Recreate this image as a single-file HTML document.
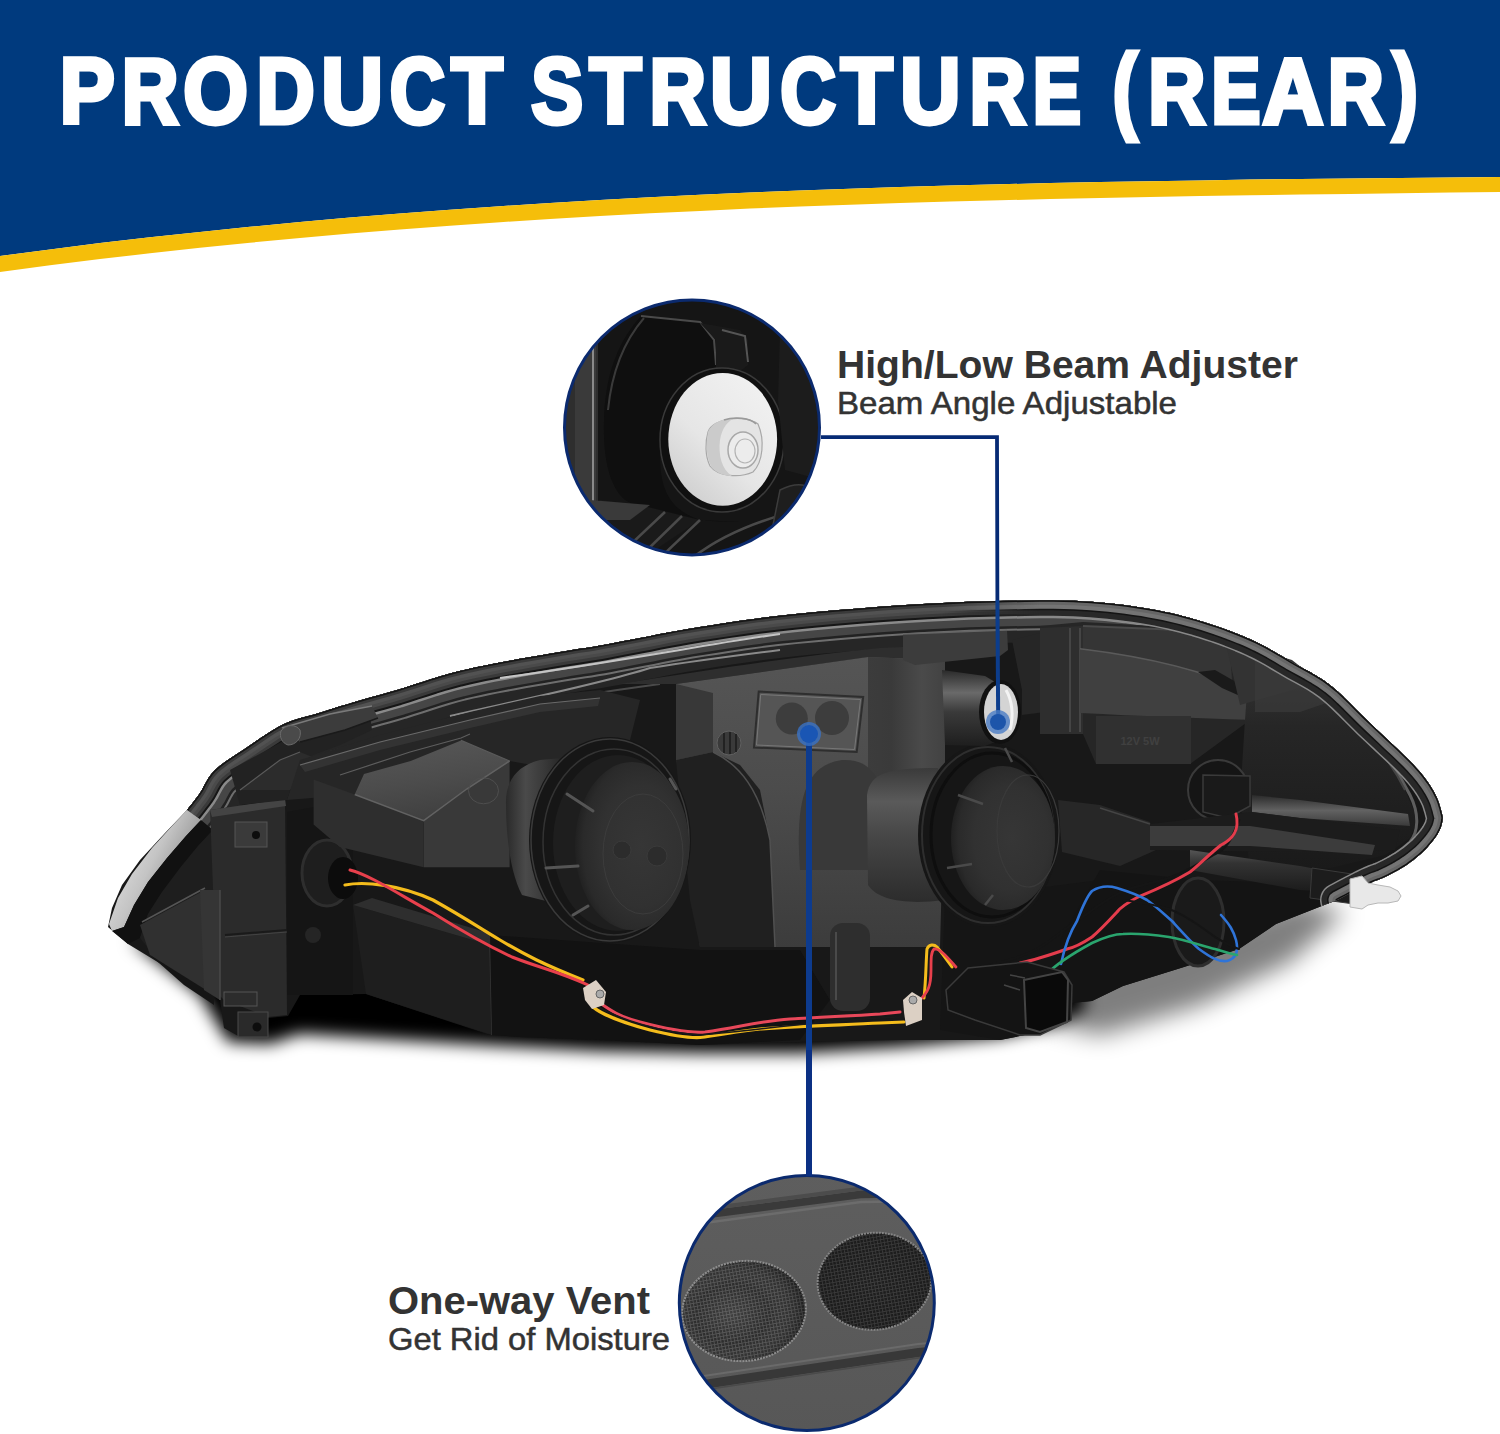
<!DOCTYPE html>
<html><head><meta charset="utf-8">
<style>
html,body{margin:0;padding:0;background:#fff;}
body{width:1500px;height:1434px;overflow:hidden;position:relative;font-family:"Liberation Sans",sans-serif;}
svg{position:absolute;left:0;top:0;}
</style></head><body>
<svg width="1500" height="1434" viewBox="0 0 1500 1434">
<polygon points="0,0 1500,0 1500,177.0 1450,177.4 1400,177.9 1350,178.4 1300,179.0 1250,179.6 1200,180.4 1150,181.2 1100,182.1 1050,183.1 1000,184.3 950,185.6 900,187.1 850,188.7 800,190.6 750,192.6 700,194.8 650,197.3 600,200.0 550,203.0 500,206.2 450,209.7 400,213.5 350,217.6 300,222.0 250,226.8 200,231.9 150,237.3 100,243.1 50,249.4 0,256.0" fill="#003a7e"/>
<polygon points="0,256.0 50,249.4 100,243.1 150,237.3 200,231.9 250,226.8 300,222.0 350,217.6 400,213.5 450,209.7 500,206.2 550,203.0 600,200.0 650,197.3 700,194.8 750,192.6 800,190.6 850,188.7 900,187.1 950,185.6 1000,184.3 1050,183.1 1100,182.1 1150,181.2 1200,180.4 1250,179.6 1300,179.0 1350,178.4 1400,177.9 1450,177.4 1500,177.0 1500,192.0 1450,192.6 1400,193.2 1350,193.9 1300,194.6 1250,195.3 1200,196.1 1150,197.0 1100,198.0 1050,199.1 1000,200.3 950,201.6 900,203.1 850,204.8 800,206.6 750,208.6 700,210.9 650,213.3 600,216.0 550,219.0 500,222.2 450,225.7 400,229.5 350,233.6 300,238.0 250,242.7 200,247.8 150,253.3 100,259.1 50,265.3 0,272.0" fill="#f5be0a"/>
<g font-family="Liberation Sans" font-weight="bold" font-size="91.86" fill="#fff" stroke="#fff" stroke-width="4.8" stroke-linejoin="miter">
<text transform="translate(63.0 123.10) scale(0.898 1)" x="-3.74" y="0">P</text>
<text transform="translate(125.0 123.10) scale(0.856 1)" x="-3.74" y="0">R</text>
<text transform="translate(184.6 123.10) scale(0.905 1)" x="-1.37" y="0">O</text>
<text transform="translate(259.7 123.10) scale(0.878 1)" x="-3.74" y="0">D</text>
<text transform="translate(324.1 123.10) scale(0.931 1)" x="-3.12" y="0">U</text>
<text transform="translate(391.0 123.10) scale(0.833 1)" x="-1.37" y="0">C</text>
<text transform="translate(450.0 123.10) scale(0.917 1)" x="1.37" y="0">T</text>
<text transform="translate(531.5 123.10) scale(0.846 1)" x="-0.25" y="0">S</text>
<text transform="translate(588.2 123.10) scale(0.925 1)" x="1.37" y="0">T</text>
<text transform="translate(652.6 123.10) scale(0.851 1)" x="-3.74" y="0">R</text>
<text transform="translate(713.0 123.10) scale(0.933 1)" x="-3.12" y="0">U</text>
<text transform="translate(781.3 123.10) scale(0.839 1)" x="-1.37" y="0">C</text>
<text transform="translate(839.5 123.10) scale(0.925 1)" x="1.37" y="0">T</text>
<text transform="translate(903.0 123.10) scale(0.908 1)" x="-3.12" y="0">U</text>
<text transform="translate(972.8 123.10) scale(0.851 1)" x="-3.74" y="0">R</text>
<text transform="translate(1035.7 123.10) scale(0.788 1)" x="-3.74" y="0">E</text>
<text transform="translate(1114.6 120.91) scale(0.797 1.034)" x="-2.18" y="0">(</text>
<text transform="translate(1151.4 123.10) scale(0.862 1)" x="-3.74" y="0">R</text>
<text transform="translate(1214.2 123.10) scale(0.804 1)" x="-3.74" y="0">E</text>
<text transform="translate(1262.5 123.10) scale(0.917 1)" x="0.11" y="0">A</text>
<text transform="translate(1331.0 123.10) scale(0.845 1)" x="-3.74" y="0">R</text>
<text transform="translate(1391.2 120.91) scale(0.807 1.034)" x="2.31" y="0">)</text>
</g>
<defs>
<filter id="blur12" x="-20%" y="-50%" width="140%" height="200%"><feGaussianBlur stdDeviation="12"/></filter>
<filter id="blur8" x="-20%" y="-50%" width="140%" height="200%"><feGaussianBlur stdDeviation="8"/></filter>
<filter id="blur4" x="-20%" y="-50%" width="140%" height="200%"><feGaussianBlur stdDeviation="4"/></filter>
<filter id="blur2" x="-20%" y="-20%" width="140%" height="140%"><feGaussianBlur stdDeviation="2"/></filter>
<filter id="blur1"><feGaussianBlur stdDeviation="1"/></filter>
<linearGradient id="lensL" x1="0.1" y1="0.2" x2="0.9" y2="0.75">
<stop offset="0" stop-color="#e4e4e4"/><stop offset="0.45" stop-color="#c4c4c4"/><stop offset="1" stop-color="#7a7a7a"/></linearGradient>
<linearGradient id="plateG" x1="0" y1="0" x2="0" y2="1">
<stop offset="0" stop-color="#555"/><stop offset="0.45" stop-color="#4c4c4c"/><stop offset="1" stop-color="#3c3c3c"/></linearGradient>
<linearGradient id="plateR" x1="0" y1="0" x2="1" y2="0">
<stop offset="0" stop-color="#3c3c3c"/><stop offset="0.3" stop-color="#3a3a3a"/><stop offset="0.7" stop-color="#4a4a4a"/><stop offset="1" stop-color="#424242"/></linearGradient>
<radialGradient id="bulbG" cx="0.58" cy="0.5" r="0.6">
<stop offset="0" stop-color="#363636"/><stop offset="0.6" stop-color="#313131"/><stop offset="0.85" stop-color="#2a2a2a"/><stop offset="1" stop-color="#1e1e1e"/></radialGradient>
<linearGradient id="cylG" x1="0" y1="0" x2="0" y2="1">
<stop offset="0" stop-color="#3a3a3a"/><stop offset="0.25" stop-color="#5a5a5a"/><stop offset="0.5" stop-color="#474747"/><stop offset="1" stop-color="#2c2c2c"/></linearGradient>
<linearGradient id="adjCyl" x1="0" y1="0" x2="0" y2="1">
<stop offset="0" stop-color="#2a2a2a"/><stop offset="0.3" stop-color="#6a6a6a"/><stop offset="0.55" stop-color="#3a3a3a"/><stop offset="1" stop-color="#1e1e1e"/></linearGradient>
<linearGradient id="shelfG" x1="0" y1="0" x2="0" y2="1">
<stop offset="0" stop-color="#222"/><stop offset="0.5" stop-color="#4a4a4a"/><stop offset="1" stop-color="#262626"/></linearGradient>
<linearGradient id="bowlG" x1="0" y1="0" x2="0.3" y2="1">
<stop offset="0" stop-color="#3a3a3a"/><stop offset="0.4" stop-color="#262626"/><stop offset="1" stop-color="#1a1a1a"/></linearGradient>
<linearGradient id="blockTop" x1="0.3" y1="0" x2="0.6" y2="1">
<stop offset="0" stop-color="#575757"/><stop offset="0.5" stop-color="#4c4c4c"/><stop offset="1" stop-color="#3e3e3e"/></linearGradient>
<linearGradient id="rimG" x1="0" y1="0" x2="0" y2="1">
<stop offset="0" stop-color="#111"/><stop offset="0.4" stop-color="#3a3a3a"/><stop offset="1" stop-color="#141414"/></linearGradient>
</defs>
<!-- floor shadow -->
<path d="M1040,1020 L1100,1035 L1200,1005 L1290,962 L1345,912 L1300,900 L1100,960 Z" fill="#000" opacity="0.5" filter="url(#blur12)"/>
<path d="M130,940 L200,995 L228,1042 L270,1044 L300,1034 L400,1040 L500,1046 L600,1051 L700,1053 L800,1053 L900,1047 L1000,1037 L1050,1026 L1085,1010 L1085,960 L300,960 Z" fill="#000" filter="url(#blur8)"/>
<!-- body silhouette -->
<path d="M108,927 L112,908 122,885 140,860 165,833 187.0,810.0 188.4,808.2 190.3,805.8 192.6,802.9 195.0,799.7 197.6,796.4 200.0,793.0 202.2,789.5 204.1,785.8 206.2,781.9 208.5,778.0 211.4,774.0 215.0,770.0 219.6,766.0 224.9,762.0 230.8,757.9 236.9,753.9 243.1,749.9 249.0,746.0 254.8,742.1 260.6,738.1 266.4,734.2 272.3,730.4 278.2,727.0 284.0,724.0 289.8,721.5 295.7,719.5 301.6,717.8 307.4,716.2 313.2,714.7 319.0,713.0 324.6,711.2 330.0,709.5 335.4,707.8 341.0,706.1 346.8,704.4 353.0,702.5 359.7,700.6 366.6,698.6 373.8,696.6 381.3,694.5 389.0,692.3 397.0,690.0 405.3,687.4 414.1,684.6 423.1,681.7 432.2,678.7 441.2,676.0 450.0,673.5 458.4,671.3 466.5,669.4 474.6,667.6 482.7,665.9 491.1,664.2 500.0,662.5 509.7,660.7 520.0,658.8 530.6,657.0 541.1,655.2 551.0,653.5 560.0,652.0 567.8,650.7 574.8,649.6 581.2,648.6 587.4,647.7 593.6,646.7 600.0,645.6 606.4,644.4 612.6,643.3 618.8,642.1 625.2,640.8 632.2,639.5 640.0,638.0 648.5,636.4 657.3,634.6 666.7,632.8 676.8,630.9 687.9,629.0 700.0,627.0 713.1,625.0 727.0,622.8 741.9,620.6 757.7,618.4 774.7,616.3 793.0,614.3 813.2,612.3 835.4,610.3 858.8,608.4 882.4,606.6 905.4,605.0 927.0,603.7 947.7,602.7 968.2,601.8 988.1,601.2 1007.0,600.8 1024.5,600.5 1040.0,600.3 1053.2,600.3 1064.3,600.5 1073.9,600.8 1082.7,601.2 1091.2,601.8 1100.0,602.5 1109.0,603.3 1117.8,604.3 1126.2,605.3 1134.4,606.5 1142.4,607.7 1150.0,609.0 1157.2,610.3 1164.1,611.7 1170.6,613.1 1177.0,614.6 1183.4,616.2 1190.0,618.0 1196.8,619.9 1203.6,622.0 1210.5,624.2 1217.3,626.4 1223.8,628.7 1230.0,631.0 1235.8,633.3 1241.4,635.5 1246.8,637.8 1251.9,640.1 1257.0,642.5 1262.0,645.0 1266.8,647.5 1271.2,649.9 1275.5,652.4 1279.9,655.0 1284.7,657.8 1290.0,661.0 1296.0,664.4 1302.4,667.9 1309.2,671.6 1316.2,675.7 1323.2,680.1 1330.0,685.0 1336.7,690.5 1343.4,696.7 1350.1,703.2 1356.7,709.9 1363.4,716.6 1370.0,723.0 1376.8,729.4 1383.9,736.1 1390.9,742.7 1397.7,749.0 1403.8,754.9 1409.0,760.0 1413.2,764.3 1416.5,767.9 1419.3,771.0 1421.6,773.8 1423.8,776.6 1426.0,779.5 1428.2,782.5 1430.2,785.5 1432.0,788.4 1433.7,791.3 1435.2,794.2 1436.6,797.0 1437.9,799.9 1439.0,803.0 1439.9,806.0 1440.8,808.9 1441.4,811.5 1442.0,813.7 1442.4,815.4 1442.7,816.6 1442.8,817.5 1442.8,818.4 1442.7,819.3 1442.5,820.5 1442.3,821.9 1441.9,823.5 1441.5,825.2 1441.0,826.9 1440.4,828.6 1439.6,830.3 1438.7,832.0 1437.8,833.7 1436.7,835.5 1435.5,837.3 1434.2,839.1 1432.7,841.0 1431.1,843.0 1429.3,845.1 1427.5,847.2 1425.4,849.4 1423.3,851.6 1421.0,853.7 1418.5,855.8 1415.9,858.0 1413.2,860.2 1410.3,862.3 1407.4,864.4 1404.4,866.4 1401.3,868.3 1398.1,870.2 1394.7,872.1 1391.4,873.8 1388.1,875.5 1385.0,877.0 1382.2,878.3 1379.7,879.3 1377.2,880.2 1374.6,881.1 1371.6,882.4 1368.0,884.0 1363.3,886.3 1357.6,889.3 1351.4,892.4 1345.6,895.5 1340.5,898.2 1337.0,900.0 1276,924 1239,949 1184,967 1123,986 1092,1001 1061,1004 1040,1032 1000,1040 900,1040 800,1042 700,1045 600,1040 520,1037 487,1034 366,994 300,995 288,1016 268,1018 268,1037 240,1037 224,1028 220,1000 184,978 156,961 128,944 Z" fill="#181818"/>
<!-- rim (top) -->
<defs><clipPath id="bodyClip"><path d="M108,927 L112,908 122,885 140,860 165,833 187.0,810.0 188.4,808.2 190.3,805.8 192.6,802.9 195.0,799.7 197.6,796.4 200.0,793.0 202.2,789.5 204.1,785.8 206.2,781.9 208.5,778.0 211.4,774.0 215.0,770.0 219.6,766.0 224.9,762.0 230.8,757.9 236.9,753.9 243.1,749.9 249.0,746.0 254.8,742.1 260.6,738.1 266.4,734.2 272.3,730.4 278.2,727.0 284.0,724.0 289.8,721.5 295.7,719.5 301.6,717.8 307.4,716.2 313.2,714.7 319.0,713.0 324.6,711.2 330.0,709.5 335.4,707.8 341.0,706.1 346.8,704.4 353.0,702.5 359.7,700.6 366.6,698.6 373.8,696.6 381.3,694.5 389.0,692.3 397.0,690.0 405.3,687.4 414.1,684.6 423.1,681.7 432.2,678.7 441.2,676.0 450.0,673.5 458.4,671.3 466.5,669.4 474.6,667.6 482.7,665.9 491.1,664.2 500.0,662.5 509.7,660.7 520.0,658.8 530.6,657.0 541.1,655.2 551.0,653.5 560.0,652.0 567.8,650.7 574.8,649.6 581.2,648.6 587.4,647.7 593.6,646.7 600.0,645.6 606.4,644.4 612.6,643.3 618.8,642.1 625.2,640.8 632.2,639.5 640.0,638.0 648.5,636.4 657.3,634.6 666.7,632.8 676.8,630.9 687.9,629.0 700.0,627.0 713.1,625.0 727.0,622.8 741.9,620.6 757.7,618.4 774.7,616.3 793.0,614.3 813.2,612.3 835.4,610.3 858.8,608.4 882.4,606.6 905.4,605.0 927.0,603.7 947.7,602.7 968.2,601.8 988.1,601.2 1007.0,600.8 1024.5,600.5 1040.0,600.3 1053.2,600.3 1064.3,600.5 1073.9,600.8 1082.7,601.2 1091.2,601.8 1100.0,602.5 1109.0,603.3 1117.8,604.3 1126.2,605.3 1134.4,606.5 1142.4,607.7 1150.0,609.0 1157.2,610.3 1164.1,611.7 1170.6,613.1 1177.0,614.6 1183.4,616.2 1190.0,618.0 1196.8,619.9 1203.6,622.0 1210.5,624.2 1217.3,626.4 1223.8,628.7 1230.0,631.0 1235.8,633.3 1241.4,635.5 1246.8,637.8 1251.9,640.1 1257.0,642.5 1262.0,645.0 1266.8,647.5 1271.2,649.9 1275.5,652.4 1279.9,655.0 1284.7,657.8 1290.0,661.0 1296.0,664.4 1302.4,667.9 1309.2,671.6 1316.2,675.7 1323.2,680.1 1330.0,685.0 1336.7,690.5 1343.4,696.7 1350.1,703.2 1356.7,709.9 1363.4,716.6 1370.0,723.0 1376.8,729.4 1383.9,736.1 1390.9,742.7 1397.7,749.0 1403.8,754.9 1409.0,760.0 1413.2,764.3 1416.5,767.9 1419.3,771.0 1421.6,773.8 1423.8,776.6 1426.0,779.5 1428.2,782.5 1430.2,785.5 1432.0,788.4 1433.7,791.3 1435.2,794.2 1436.6,797.0 1437.9,799.9 1439.0,803.0 1439.9,806.0 1440.8,808.9 1441.4,811.5 1442.0,813.7 1442.4,815.4 1442.7,816.6 1442.8,817.5 1442.8,818.4 1442.7,819.3 1442.5,820.5 1442.3,821.9 1441.9,823.5 1441.5,825.2 1441.0,826.9 1440.4,828.6 1439.6,830.3 1438.7,832.0 1437.8,833.7 1436.7,835.5 1435.5,837.3 1434.2,839.1 1432.7,841.0 1431.1,843.0 1429.3,845.1 1427.5,847.2 1425.4,849.4 1423.3,851.6 1421.0,853.7 1418.5,855.8 1415.9,858.0 1413.2,860.2 1410.3,862.3 1407.4,864.4 1404.4,866.4 1401.3,868.3 1398.1,870.2 1394.7,872.1 1391.4,873.8 1388.1,875.5 1385.0,877.0 1382.2,878.3 1379.7,879.3 1377.2,880.2 1374.6,881.1 1371.6,882.4 1368.0,884.0 1363.3,886.3 1357.6,889.3 1351.4,892.4 1345.6,895.5 1340.5,898.2 1337.0,900.0 1276,924 1239,949 1184,967 1123,986 1092,1001 1061,1004 1040,1032 1000,1040 900,1040 800,1042 700,1045 600,1040 520,1037 487,1034 366,994 300,995 288,1016 268,1018 268,1037 240,1037 224,1028 220,1000 184,978 156,961 128,944 Z"/></clipPath></defs>
<g clip-path="url(#bodyClip)" fill="none" stroke-linejoin="round">
<path d="M187.0,810.0 L188.4,808.2 L190.3,805.8 L192.6,802.9 L195.0,799.7 L197.6,796.4 L200.0,793.0 L202.2,789.5 L204.1,785.8 L206.2,781.9 L208.5,778.0 L211.4,774.0 L215.0,770.0 L219.6,766.0 L224.9,762.0 L230.8,757.9 L236.9,753.9 L243.1,749.9 L249.0,746.0 L254.8,742.1 L260.6,738.1 L266.4,734.2 L272.3,730.4 L278.2,727.0 L284.0,724.0 L289.8,721.5 L295.7,719.5 L301.6,717.8 L307.4,716.2 L313.2,714.7 L319.0,713.0 L324.6,711.2 L330.0,709.5 L335.4,707.8 L341.0,706.1 L346.8,704.4 L353.0,702.5 L359.7,700.6 L366.6,698.6 L373.8,696.6 L381.3,694.5 L389.0,692.3 L397.0,690.0 L405.3,687.4 L414.1,684.6 L423.1,681.7 L432.2,678.7 L441.2,676.0 L450.0,673.5 L458.4,671.3 L466.5,669.4 L474.6,667.6 L482.7,665.9 L491.1,664.2 L500.0,662.5 L509.7,660.7 L520.0,658.8 L530.6,657.0 L541.1,655.2 L551.0,653.5 L560.0,652.0 L567.8,650.7 L574.8,649.6 L581.2,648.6 L587.4,647.7 L593.6,646.7 L600.0,645.6 L606.4,644.4 L612.6,643.3 L618.8,642.1 L625.2,640.8 L632.2,639.5 L640.0,638.0 L648.5,636.4 L657.3,634.6 L666.7,632.8 L676.8,630.9 L687.9,629.0 L700.0,627.0 L713.1,625.0 L727.0,622.8 L741.9,620.6 L757.7,618.4 L774.7,616.3 L793.0,614.3 L813.2,612.3 L835.4,610.3 L858.8,608.4 L882.4,606.6 L905.4,605.0 L927.0,603.7 L947.7,602.7 L968.2,601.8 L988.1,601.2 L1007.0,600.8 L1024.5,600.5 L1040.0,600.3 L1053.2,600.3 L1064.3,600.5 L1073.9,600.8 L1082.7,601.2 L1091.2,601.8 L1100.0,602.5 L1109.0,603.3 L1117.8,604.3 L1126.2,605.3 L1134.4,606.5 L1142.4,607.7 L1150.0,609.0 L1157.2,610.3 L1164.1,611.7 L1170.6,613.1 L1177.0,614.6 L1183.4,616.2 L1190.0,618.0 L1196.8,619.9 L1203.6,622.0 L1210.5,624.2 L1217.3,626.4 L1223.8,628.7 L1230.0,631.0 L1235.8,633.3 L1241.4,635.5 L1246.8,637.8 L1251.9,640.1 L1257.0,642.5 L1262.0,645.0 L1266.8,647.5 L1271.2,649.9 L1275.5,652.4 L1279.9,655.0 L1284.7,657.8 L1290.0,661.0 L1296.0,664.4 L1302.4,667.9 L1309.2,671.6 L1316.2,675.7 L1323.2,680.1 L1330.0,685.0 L1336.7,690.5 L1343.4,696.7" stroke="#262626" stroke-width="84"/>
<path d="M187.0,810.0 L188.4,808.2 L190.3,805.8 L192.6,802.9 L195.0,799.7 L197.6,796.4 L200.0,793.0 L202.2,789.5 L204.1,785.8 L206.2,781.9 L208.5,778.0 L211.4,774.0 L215.0,770.0 L219.6,766.0 L224.9,762.0 L230.8,757.9 L236.9,753.9 L243.1,749.9 L249.0,746.0 L254.8,742.1 L260.6,738.1 L266.4,734.2 L272.3,730.4 L278.2,727.0 L284.0,724.0 L289.8,721.5 L295.7,719.5 L301.6,717.8 L307.4,716.2 L313.2,714.7 L319.0,713.0 L324.6,711.2 L330.0,709.5 L335.4,707.8 L341.0,706.1 L346.8,704.4 L353.0,702.5 L359.7,700.6 L366.6,698.6 L373.8,696.6 L381.3,694.5 L389.0,692.3 L397.0,690.0 L405.3,687.4 L414.1,684.6 L423.1,681.7 L432.2,678.7 L441.2,676.0 L450.0,673.5 L458.4,671.3 L466.5,669.4 L474.6,667.6 L482.7,665.9 L491.1,664.2 L500.0,662.5 L509.7,660.7 L520.0,658.8 L530.6,657.0 L541.1,655.2 L551.0,653.5 L560.0,652.0 L567.8,650.7 L574.8,649.6 L581.2,648.6 L587.4,647.7 L593.6,646.7 L600.0,645.6 L606.4,644.4 L612.6,643.3 L618.8,642.1 L625.2,640.8 L632.2,639.5 L640.0,638.0 L648.5,636.4 L657.3,634.6 L666.7,632.8 L676.8,630.9 L687.9,629.0 L700.0,627.0 L713.1,625.0 L727.0,622.8 L741.9,620.6 L757.7,618.4 L774.7,616.3 L793.0,614.3 L813.2,612.3 L835.4,610.3 L858.8,608.4 L882.4,606.6 L905.4,605.0 L927.0,603.7 L947.7,602.7 L968.2,601.8 L988.1,601.2 L1007.0,600.8 L1024.5,600.5 L1040.0,600.3 L1053.2,600.3 L1064.3,600.5 L1073.9,600.8 L1082.7,601.2 L1091.2,601.8 L1100.0,602.5 L1109.0,603.3 L1117.8,604.3 L1126.2,605.3 L1134.4,606.5 L1142.4,607.7 L1150.0,609.0 L1157.2,610.3 L1164.1,611.7 L1170.6,613.1 L1177.0,614.6 L1183.4,616.2 L1190.0,618.0 L1196.8,619.9 L1203.6,622.0 L1210.5,624.2 L1217.3,626.4 L1223.8,628.7 L1230.0,631.0 L1235.8,633.3 L1241.4,635.5 L1246.8,637.8 L1251.9,640.1 L1257.0,642.5 L1262.0,645.0 L1266.8,647.5 L1271.2,649.9 L1275.5,652.4 L1279.9,655.0 L1284.7,657.8 L1290.0,661.0 L1296.0,664.4 L1302.4,667.9 L1309.2,671.6 L1316.2,675.7 L1323.2,680.1 L1330.0,685.0 L1336.7,690.5 L1343.4,696.7" stroke="#6e6e6e" stroke-width="60"/>
<path d="M187.0,810.0 L188.4,808.2 L190.3,805.8 L192.6,802.9 L195.0,799.7 L197.6,796.4 L200.0,793.0 L202.2,789.5 L204.1,785.8 L206.2,781.9 L208.5,778.0 L211.4,774.0 L215.0,770.0 L219.6,766.0 L224.9,762.0 L230.8,757.9 L236.9,753.9 L243.1,749.9 L249.0,746.0 L254.8,742.1 L260.6,738.1 L266.4,734.2 L272.3,730.4 L278.2,727.0 L284.0,724.0 L289.8,721.5 L295.7,719.5 L301.6,717.8 L307.4,716.2 L313.2,714.7 L319.0,713.0 L324.6,711.2 L330.0,709.5 L335.4,707.8 L341.0,706.1 L346.8,704.4 L353.0,702.5 L359.7,700.6 L366.6,698.6 L373.8,696.6 L381.3,694.5 L389.0,692.3 L397.0,690.0 L405.3,687.4 L414.1,684.6 L423.1,681.7 L432.2,678.7 L441.2,676.0 L450.0,673.5 L458.4,671.3 L466.5,669.4 L474.6,667.6 L482.7,665.9 L491.1,664.2 L500.0,662.5 L509.7,660.7 L520.0,658.8 L530.6,657.0 L541.1,655.2 L551.0,653.5 L560.0,652.0 L567.8,650.7 L574.8,649.6 L581.2,648.6 L587.4,647.7 L593.6,646.7 L600.0,645.6 L606.4,644.4 L612.6,643.3 L618.8,642.1 L625.2,640.8 L632.2,639.5 L640.0,638.0 L648.5,636.4 L657.3,634.6 L666.7,632.8 L676.8,630.9 L687.9,629.0 L700.0,627.0 L713.1,625.0 L727.0,622.8 L741.9,620.6 L757.7,618.4 L774.7,616.3 L793.0,614.3 L813.2,612.3 L835.4,610.3 L858.8,608.4 L882.4,606.6 L905.4,605.0 L927.0,603.7 L947.7,602.7 L968.2,601.8 L988.1,601.2 L1007.0,600.8 L1024.5,600.5 L1040.0,600.3 L1053.2,600.3 L1064.3,600.5 L1073.9,600.8 L1082.7,601.2 L1091.2,601.8 L1100.0,602.5 L1109.0,603.3 L1117.8,604.3 L1126.2,605.3 L1134.4,606.5 L1142.4,607.7 L1150.0,609.0 L1157.2,610.3 L1164.1,611.7 L1170.6,613.1 L1177.0,614.6 L1183.4,616.2 L1190.0,618.0 L1196.8,619.9 L1203.6,622.0 L1210.5,624.2 L1217.3,626.4 L1223.8,628.7 L1230.0,631.0 L1235.8,633.3 L1241.4,635.5 L1246.8,637.8 L1251.9,640.1 L1257.0,642.5 L1262.0,645.0 L1266.8,647.5 L1271.2,649.9 L1275.5,652.4 L1279.9,655.0 L1284.7,657.8 L1290.0,661.0 L1296.0,664.4 L1302.4,667.9 L1309.2,671.6 L1316.2,675.7 L1323.2,680.1 L1330.0,685.0 L1336.7,690.5 L1343.4,696.7" stroke="#222" stroke-width="56"/>
<path d="M187.0,810.0 L188.4,808.2 L190.3,805.8 L192.6,802.9 L195.0,799.7 L197.6,796.4 L200.0,793.0 L202.2,789.5 L204.1,785.8 L206.2,781.9 L208.5,778.0 L211.4,774.0 L215.0,770.0 L219.6,766.0 L224.9,762.0 L230.8,757.9 L236.9,753.9 L243.1,749.9 L249.0,746.0 L254.8,742.1 L260.6,738.1 L266.4,734.2 L272.3,730.4 L278.2,727.0 L284.0,724.0 L289.8,721.5 L295.7,719.5 L301.6,717.8 L307.4,716.2 L313.2,714.7 L319.0,713.0 L324.6,711.2 L330.0,709.5 L335.4,707.8 L341.0,706.1 L346.8,704.4 L353.0,702.5 L359.7,700.6 L366.6,698.6 L373.8,696.6 L381.3,694.5 L389.0,692.3 L397.0,690.0 L405.3,687.4 L414.1,684.6 L423.1,681.7 L432.2,678.7 L441.2,676.0 L450.0,673.5 L458.4,671.3 L466.5,669.4 L474.6,667.6 L482.7,665.9 L491.1,664.2 L500.0,662.5 L509.7,660.7 L520.0,658.8 L530.6,657.0 L541.1,655.2 L551.0,653.5 L560.0,652.0 L567.8,650.7 L574.8,649.6 L581.2,648.6 L587.4,647.7 L593.6,646.7 L600.0,645.6 L606.4,644.4 L612.6,643.3 L618.8,642.1 L625.2,640.8 L632.2,639.5 L640.0,638.0 L648.5,636.4 L657.3,634.6 L666.7,632.8 L676.8,630.9 L687.9,629.0 L700.0,627.0 L713.1,625.0 L727.0,622.8 L741.9,620.6 L757.7,618.4 L774.7,616.3 L793.0,614.3 L813.2,612.3 L835.4,610.3 L858.8,608.4 L882.4,606.6 L905.4,605.0 L927.0,603.7 L947.7,602.7 L968.2,601.8 L988.1,601.2 L1007.0,600.8 L1024.5,600.5 L1040.0,600.3 L1053.2,600.3 L1064.3,600.5 L1073.9,600.8 L1082.7,601.2 L1091.2,601.8 L1100.0,602.5 L1109.0,603.3 L1117.8,604.3 L1126.2,605.3 L1134.4,606.5 L1142.4,607.7 L1150.0,609.0 L1157.2,610.3 L1164.1,611.7 L1170.6,613.1 L1177.0,614.6 L1183.4,616.2 L1190.0,618.0 L1196.8,619.9 L1203.6,622.0 L1210.5,624.2 L1217.3,626.4 L1223.8,628.7 L1230.0,631.0 L1235.8,633.3 L1241.4,635.5 L1246.8,637.8 L1251.9,640.1 L1257.0,642.5 L1262.0,645.0 L1266.8,647.5 L1271.2,649.9 L1275.5,652.4 L1279.9,655.0 L1284.7,657.8 L1290.0,661.0 L1296.0,664.4 L1302.4,667.9 L1309.2,671.6 L1316.2,675.7 L1323.2,680.1 L1330.0,685.0 L1336.7,690.5 L1343.4,696.7" stroke="#464646" stroke-width="51"/>
<path d="M187.0,810.0 L188.4,808.2 L190.3,805.8 L192.6,802.9 L195.0,799.7 L197.6,796.4 L200.0,793.0 L202.2,789.5 L204.1,785.8 L206.2,781.9 L208.5,778.0 L211.4,774.0 L215.0,770.0 L219.6,766.0 L224.9,762.0 L230.8,757.9 L236.9,753.9 L243.1,749.9 L249.0,746.0 L254.8,742.1 L260.6,738.1 L266.4,734.2 L272.3,730.4 L278.2,727.0 L284.0,724.0 L289.8,721.5 L295.7,719.5 L301.6,717.8 L307.4,716.2 L313.2,714.7 L319.0,713.0 L324.6,711.2 L330.0,709.5 L335.4,707.8 L341.0,706.1 L346.8,704.4 L353.0,702.5 L359.7,700.6 L366.6,698.6 L373.8,696.6 L381.3,694.5 L389.0,692.3 L397.0,690.0 L405.3,687.4 L414.1,684.6 L423.1,681.7 L432.2,678.7 L441.2,676.0 L450.0,673.5 L458.4,671.3 L466.5,669.4 L474.6,667.6 L482.7,665.9 L491.1,664.2 L500.0,662.5 L509.7,660.7 L520.0,658.8 L530.6,657.0 L541.1,655.2 L551.0,653.5 L560.0,652.0 L567.8,650.7 L574.8,649.6 L581.2,648.6 L587.4,647.7 L593.6,646.7 L600.0,645.6 L606.4,644.4 L612.6,643.3 L618.8,642.1 L625.2,640.8 L632.2,639.5 L640.0,638.0 L648.5,636.4 L657.3,634.6 L666.7,632.8 L676.8,630.9 L687.9,629.0 L700.0,627.0 L713.1,625.0 L727.0,622.8 L741.9,620.6 L757.7,618.4 L774.7,616.3 L793.0,614.3 L813.2,612.3 L835.4,610.3 L858.8,608.4 L882.4,606.6 L905.4,605.0 L927.0,603.7 L947.7,602.7 L968.2,601.8 L988.1,601.2 L1007.0,600.8 L1024.5,600.5 L1040.0,600.3 L1053.2,600.3 L1064.3,600.5 L1073.9,600.8 L1082.7,601.2 L1091.2,601.8 L1100.0,602.5 L1109.0,603.3 L1117.8,604.3 L1126.2,605.3 L1134.4,606.5 L1142.4,607.7 L1150.0,609.0 L1157.2,610.3 L1164.1,611.7 L1170.6,613.1 L1177.0,614.6 L1183.4,616.2 L1190.0,618.0 L1196.8,619.9 L1203.6,622.0 L1210.5,624.2 L1217.3,626.4 L1223.8,628.7 L1230.0,631.0 L1235.8,633.3 L1241.4,635.5 L1246.8,637.8 L1251.9,640.1 L1257.0,642.5 L1262.0,645.0 L1266.8,647.5 L1271.2,649.9 L1275.5,652.4 L1279.9,655.0 L1284.7,657.8 L1290.0,661.0 L1296.0,664.4 L1302.4,667.9 L1309.2,671.6 L1316.2,675.7 L1323.2,680.1 L1330.0,685.0 L1336.7,690.5 L1343.4,696.7" stroke="#8a8a8a" stroke-width="36"/>
<path d="M187.0,810.0 L188.4,808.2 L190.3,805.8 L192.6,802.9 L195.0,799.7 L197.6,796.4 L200.0,793.0 L202.2,789.5 L204.1,785.8 L206.2,781.9 L208.5,778.0 L211.4,774.0 L215.0,770.0 L219.6,766.0 L224.9,762.0 L230.8,757.9 L236.9,753.9 L243.1,749.9 L249.0,746.0 L254.8,742.1 L260.6,738.1 L266.4,734.2 L272.3,730.4 L278.2,727.0 L284.0,724.0 L289.8,721.5 L295.7,719.5 L301.6,717.8 L307.4,716.2 L313.2,714.7 L319.0,713.0 L324.6,711.2 L330.0,709.5 L335.4,707.8 L341.0,706.1 L346.8,704.4 L353.0,702.5 L359.7,700.6 L366.6,698.6 L373.8,696.6 L381.3,694.5 L389.0,692.3 L397.0,690.0 L405.3,687.4 L414.1,684.6 L423.1,681.7 L432.2,678.7 L441.2,676.0 L450.0,673.5 L458.4,671.3 L466.5,669.4 L474.6,667.6 L482.7,665.9 L491.1,664.2 L500.0,662.5 L509.7,660.7 L520.0,658.8 L530.6,657.0 L541.1,655.2 L551.0,653.5 L560.0,652.0 L567.8,650.7 L574.8,649.6 L581.2,648.6 L587.4,647.7 L593.6,646.7 L600.0,645.6 L606.4,644.4 L612.6,643.3 L618.8,642.1 L625.2,640.8 L632.2,639.5 L640.0,638.0 L648.5,636.4 L657.3,634.6 L666.7,632.8 L676.8,630.9 L687.9,629.0 L700.0,627.0 L713.1,625.0 L727.0,622.8 L741.9,620.6 L757.7,618.4 L774.7,616.3 L793.0,614.3 L813.2,612.3 L835.4,610.3 L858.8,608.4 L882.4,606.6 L905.4,605.0 L927.0,603.7 L947.7,602.7 L968.2,601.8 L988.1,601.2 L1007.0,600.8 L1024.5,600.5 L1040.0,600.3 L1053.2,600.3 L1064.3,600.5 L1073.9,600.8 L1082.7,601.2 L1091.2,601.8 L1100.0,602.5 L1109.0,603.3 L1117.8,604.3 L1126.2,605.3 L1134.4,606.5 L1142.4,607.7 L1150.0,609.0 L1157.2,610.3 L1164.1,611.7 L1170.6,613.1 L1177.0,614.6 L1183.4,616.2 L1190.0,618.0 L1196.8,619.9 L1203.6,622.0 L1210.5,624.2 L1217.3,626.4 L1223.8,628.7 L1230.0,631.0 L1235.8,633.3 L1241.4,635.5 L1246.8,637.8 L1251.9,640.1 L1257.0,642.5 L1262.0,645.0 L1266.8,647.5 L1271.2,649.9 L1275.5,652.4 L1279.9,655.0 L1284.7,657.8 L1290.0,661.0 L1296.0,664.4 L1302.4,667.9 L1309.2,671.6 L1316.2,675.7 L1323.2,680.1 L1330.0,685.0 L1336.7,690.5 L1343.4,696.7" stroke="#161616" stroke-width="31"/>
<path d="M187.0,810.0 L188.4,808.2 L190.3,805.8 L192.6,802.9 L195.0,799.7 L197.6,796.4 L200.0,793.0 L202.2,789.5 L204.1,785.8 L206.2,781.9 L208.5,778.0 L211.4,774.0 L215.0,770.0 L219.6,766.0 L224.9,762.0 L230.8,757.9 L236.9,753.9 L243.1,749.9 L249.0,746.0 L254.8,742.1 L260.6,738.1 L266.4,734.2 L272.3,730.4 L278.2,727.0 L284.0,724.0 L289.8,721.5 L295.7,719.5 L301.6,717.8 L307.4,716.2 L313.2,714.7 L319.0,713.0 L324.6,711.2 L330.0,709.5 L335.4,707.8 L341.0,706.1 L346.8,704.4 L353.0,702.5 L359.7,700.6 L366.6,698.6 L373.8,696.6 L381.3,694.5 L389.0,692.3 L397.0,690.0 L405.3,687.4 L414.1,684.6 L423.1,681.7 L432.2,678.7 L441.2,676.0 L450.0,673.5 L458.4,671.3 L466.5,669.4 L474.6,667.6 L482.7,665.9 L491.1,664.2 L500.0,662.5 L509.7,660.7 L520.0,658.8 L530.6,657.0 L541.1,655.2 L551.0,653.5 L560.0,652.0 L567.8,650.7 L574.8,649.6 L581.2,648.6 L587.4,647.7 L593.6,646.7 L600.0,645.6 L606.4,644.4 L612.6,643.3 L618.8,642.1 L625.2,640.8 L632.2,639.5 L640.0,638.0 L648.5,636.4 L657.3,634.6 L666.7,632.8 L676.8,630.9 L687.9,629.0 L700.0,627.0 L713.1,625.0 L727.0,622.8 L741.9,620.6 L757.7,618.4 L774.7,616.3 L793.0,614.3 L813.2,612.3 L835.4,610.3 L858.8,608.4 L882.4,606.6 L905.4,605.0 L927.0,603.7 L947.7,602.7 L968.2,601.8 L988.1,601.2 L1007.0,600.8 L1024.5,600.5 L1040.0,600.3 L1053.2,600.3 L1064.3,600.5 L1073.9,600.8 L1082.7,601.2 L1091.2,601.8 L1100.0,602.5 L1109.0,603.3 L1117.8,604.3 L1126.2,605.3 L1134.4,606.5 L1142.4,607.7 L1150.0,609.0 L1157.2,610.3 L1164.1,611.7 L1170.6,613.1 L1177.0,614.6 L1183.4,616.2 L1190.0,618.0 L1196.8,619.9 L1203.6,622.0 L1210.5,624.2 L1217.3,626.4 L1223.8,628.7 L1230.0,631.0 L1235.8,633.3 L1241.4,635.5 L1246.8,637.8 L1251.9,640.1 L1257.0,642.5 L1262.0,645.0 L1266.8,647.5 L1271.2,649.9 L1275.5,652.4 L1279.9,655.0 L1284.7,657.8 L1290.0,661.0 L1296.0,664.4 L1302.4,667.9 L1309.2,671.6 L1316.2,675.7 L1323.2,680.1 L1330.0,685.0 L1336.7,690.5 L1343.4,696.7" stroke="#3a3a3a" stroke-width="27"/>
<path d="M187.0,810.0 L188.4,808.2 L190.3,805.8 L192.6,802.9 L195.0,799.7 L197.6,796.4 L200.0,793.0 L202.2,789.5 L204.1,785.8 L206.2,781.9 L208.5,778.0 L211.4,774.0 L215.0,770.0 L219.6,766.0 L224.9,762.0 L230.8,757.9 L236.9,753.9 L243.1,749.9 L249.0,746.0 L254.8,742.1 L260.6,738.1 L266.4,734.2 L272.3,730.4 L278.2,727.0 L284.0,724.0 L289.8,721.5 L295.7,719.5 L301.6,717.8 L307.4,716.2 L313.2,714.7 L319.0,713.0 L324.6,711.2 L330.0,709.5 L335.4,707.8 L341.0,706.1 L346.8,704.4 L353.0,702.5 L359.7,700.6 L366.6,698.6 L373.8,696.6 L381.3,694.5 L389.0,692.3 L397.0,690.0 L405.3,687.4 L414.1,684.6 L423.1,681.7 L432.2,678.7 L441.2,676.0 L450.0,673.5 L458.4,671.3 L466.5,669.4 L474.6,667.6 L482.7,665.9 L491.1,664.2 L500.0,662.5 L509.7,660.7 L520.0,658.8 L530.6,657.0 L541.1,655.2 L551.0,653.5 L560.0,652.0 L567.8,650.7 L574.8,649.6 L581.2,648.6 L587.4,647.7 L593.6,646.7 L600.0,645.6 L606.4,644.4 L612.6,643.3 L618.8,642.1 L625.2,640.8 L632.2,639.5 L640.0,638.0 L648.5,636.4 L657.3,634.6 L666.7,632.8 L676.8,630.9 L687.9,629.0 L700.0,627.0 L713.1,625.0 L727.0,622.8 L741.9,620.6 L757.7,618.4 L774.7,616.3 L793.0,614.3 L813.2,612.3 L835.4,610.3 L858.8,608.4 L882.4,606.6 L905.4,605.0 L927.0,603.7 L947.7,602.7 L968.2,601.8 L988.1,601.2 L1007.0,600.8 L1024.5,600.5 L1040.0,600.3 L1053.2,600.3 L1064.3,600.5 L1073.9,600.8 L1082.7,601.2 L1091.2,601.8 L1100.0,602.5 L1109.0,603.3 L1117.8,604.3 L1126.2,605.3 L1134.4,606.5 L1142.4,607.7 L1150.0,609.0 L1157.2,610.3 L1164.1,611.7 L1170.6,613.1 L1177.0,614.6 L1183.4,616.2 L1190.0,618.0 L1196.8,619.9 L1203.6,622.0 L1210.5,624.2 L1217.3,626.4 L1223.8,628.7 L1230.0,631.0 L1235.8,633.3 L1241.4,635.5 L1246.8,637.8 L1251.9,640.1 L1257.0,642.5 L1262.0,645.0 L1266.8,647.5 L1271.2,649.9 L1275.5,652.4 L1279.9,655.0 L1284.7,657.8 L1290.0,661.0 L1296.0,664.4 L1302.4,667.9 L1309.2,671.6 L1316.2,675.7 L1323.2,680.1 L1330.0,685.0 L1336.7,690.5 L1343.4,696.7" stroke="#4a4a4a" stroke-width="21"/>
<path d="M187.0,810.0 L188.4,808.2 L190.3,805.8 L192.6,802.9 L195.0,799.7 L197.6,796.4 L200.0,793.0 L202.2,789.5 L204.1,785.8 L206.2,781.9 L208.5,778.0 L211.4,774.0 L215.0,770.0 L219.6,766.0 L224.9,762.0 L230.8,757.9 L236.9,753.9 L243.1,749.9 L249.0,746.0 L254.8,742.1 L260.6,738.1 L266.4,734.2 L272.3,730.4 L278.2,727.0 L284.0,724.0 L289.8,721.5 L295.7,719.5 L301.6,717.8 L307.4,716.2 L313.2,714.7 L319.0,713.0 L324.6,711.2 L330.0,709.5 L335.4,707.8 L341.0,706.1 L346.8,704.4 L353.0,702.5 L359.7,700.6 L366.6,698.6 L373.8,696.6 L381.3,694.5 L389.0,692.3 L397.0,690.0 L405.3,687.4 L414.1,684.6 L423.1,681.7 L432.2,678.7 L441.2,676.0 L450.0,673.5 L458.4,671.3 L466.5,669.4 L474.6,667.6 L482.7,665.9 L491.1,664.2 L500.0,662.5 L509.7,660.7 L520.0,658.8 L530.6,657.0 L541.1,655.2 L551.0,653.5 L560.0,652.0 L567.8,650.7 L574.8,649.6 L581.2,648.6 L587.4,647.7 L593.6,646.7 L600.0,645.6 L606.4,644.4 L612.6,643.3 L618.8,642.1 L625.2,640.8 L632.2,639.5 L640.0,638.0 L648.5,636.4 L657.3,634.6 L666.7,632.8 L676.8,630.9 L687.9,629.0 L700.0,627.0 L713.1,625.0 L727.0,622.8 L741.9,620.6 L757.7,618.4 L774.7,616.3 L793.0,614.3 L813.2,612.3 L835.4,610.3 L858.8,608.4 L882.4,606.6 L905.4,605.0 L927.0,603.7 L947.7,602.7 L968.2,601.8 L988.1,601.2 L1007.0,600.8 L1024.5,600.5 L1040.0,600.3 L1053.2,600.3 L1064.3,600.5 L1073.9,600.8 L1082.7,601.2 L1091.2,601.8 L1100.0,602.5 L1109.0,603.3 L1117.8,604.3 L1126.2,605.3 L1134.4,606.5 L1142.4,607.7 L1150.0,609.0 L1157.2,610.3 L1164.1,611.7 L1170.6,613.1 L1177.0,614.6 L1183.4,616.2 L1190.0,618.0 L1196.8,619.9 L1203.6,622.0 L1210.5,624.2 L1217.3,626.4 L1223.8,628.7 L1230.0,631.0 L1235.8,633.3 L1241.4,635.5 L1246.8,637.8 L1251.9,640.1 L1257.0,642.5 L1262.0,645.0 L1266.8,647.5 L1271.2,649.9 L1275.5,652.4 L1279.9,655.0 L1284.7,657.8 L1290.0,661.0 L1296.0,664.4 L1302.4,667.9 L1309.2,671.6 L1316.2,675.7 L1323.2,680.1 L1330.0,685.0 L1336.7,690.5 L1343.4,696.7" stroke="#525252" stroke-width="15"/>
<path d="M187.0,810.0 L188.4,808.2 L190.3,805.8 L192.6,802.9 L195.0,799.7 L197.6,796.4 L200.0,793.0 L202.2,789.5 L204.1,785.8 L206.2,781.9 L208.5,778.0 L211.4,774.0 L215.0,770.0 L219.6,766.0 L224.9,762.0 L230.8,757.9 L236.9,753.9 L243.1,749.9 L249.0,746.0 L254.8,742.1 L260.6,738.1 L266.4,734.2 L272.3,730.4 L278.2,727.0 L284.0,724.0 L289.8,721.5 L295.7,719.5 L301.6,717.8 L307.4,716.2 L313.2,714.7 L319.0,713.0 L324.6,711.2 L330.0,709.5 L335.4,707.8 L341.0,706.1 L346.8,704.4 L353.0,702.5 L359.7,700.6 L366.6,698.6 L373.8,696.6 L381.3,694.5 L389.0,692.3 L397.0,690.0 L405.3,687.4 L414.1,684.6 L423.1,681.7 L432.2,678.7 L441.2,676.0 L450.0,673.5 L458.4,671.3 L466.5,669.4 L474.6,667.6 L482.7,665.9 L491.1,664.2 L500.0,662.5 L509.7,660.7 L520.0,658.8 L530.6,657.0 L541.1,655.2 L551.0,653.5 L560.0,652.0 L567.8,650.7 L574.8,649.6 L581.2,648.6 L587.4,647.7 L593.6,646.7 L600.0,645.6 L606.4,644.4 L612.6,643.3 L618.8,642.1 L625.2,640.8 L632.2,639.5 L640.0,638.0 L648.5,636.4 L657.3,634.6 L666.7,632.8 L676.8,630.9 L687.9,629.0 L700.0,627.0 L713.1,625.0 L727.0,622.8 L741.9,620.6 L757.7,618.4 L774.7,616.3 L793.0,614.3 L813.2,612.3 L835.4,610.3 L858.8,608.4 L882.4,606.6 L905.4,605.0 L927.0,603.7 L947.7,602.7 L968.2,601.8 L988.1,601.2 L1007.0,600.8 L1024.5,600.5 L1040.0,600.3 L1053.2,600.3 L1064.3,600.5 L1073.9,600.8 L1082.7,601.2 L1091.2,601.8 L1100.0,602.5 L1109.0,603.3 L1117.8,604.3 L1126.2,605.3 L1134.4,606.5 L1142.4,607.7 L1150.0,609.0 L1157.2,610.3 L1164.1,611.7 L1170.6,613.1 L1177.0,614.6 L1183.4,616.2 L1190.0,618.0 L1196.8,619.9 L1203.6,622.0 L1210.5,624.2 L1217.3,626.4 L1223.8,628.7 L1230.0,631.0 L1235.8,633.3 L1241.4,635.5 L1246.8,637.8 L1251.9,640.1 L1257.0,642.5 L1262.0,645.0 L1266.8,647.5 L1271.2,649.9 L1275.5,652.4 L1279.9,655.0 L1284.7,657.8 L1290.0,661.0 L1296.0,664.4 L1302.4,667.9 L1309.2,671.6 L1316.2,675.7 L1323.2,680.1 L1330.0,685.0 L1336.7,690.5 L1343.4,696.7" stroke="#3a3a3a" stroke-width="8"/>
<path d="M187.0,810.0 L188.4,808.2 L190.3,805.8 L192.6,802.9 L195.0,799.7 L197.6,796.4 L200.0,793.0 L202.2,789.5 L204.1,785.8 L206.2,781.9 L208.5,778.0 L211.4,774.0 L215.0,770.0 L219.6,766.0 L224.9,762.0 L230.8,757.9 L236.9,753.9 L243.1,749.9 L249.0,746.0 L254.8,742.1 L260.6,738.1 L266.4,734.2 L272.3,730.4 L278.2,727.0 L284.0,724.0 L289.8,721.5 L295.7,719.5 L301.6,717.8 L307.4,716.2 L313.2,714.7 L319.0,713.0 L324.6,711.2 L330.0,709.5 L335.4,707.8 L341.0,706.1 L346.8,704.4 L353.0,702.5 L359.7,700.6 L366.6,698.6 L373.8,696.6 L381.3,694.5 L389.0,692.3 L397.0,690.0 L405.3,687.4 L414.1,684.6 L423.1,681.7 L432.2,678.7 L441.2,676.0 L450.0,673.5 L458.4,671.3 L466.5,669.4 L474.6,667.6 L482.7,665.9 L491.1,664.2 L500.0,662.5 L509.7,660.7 L520.0,658.8 L530.6,657.0 L541.1,655.2 L551.0,653.5 L560.0,652.0 L567.8,650.7 L574.8,649.6 L581.2,648.6 L587.4,647.7 L593.6,646.7 L600.0,645.6 L606.4,644.4 L612.6,643.3 L618.8,642.1 L625.2,640.8 L632.2,639.5 L640.0,638.0 L648.5,636.4 L657.3,634.6 L666.7,632.8 L676.8,630.9 L687.9,629.0 L700.0,627.0 L713.1,625.0 L727.0,622.8 L741.9,620.6 L757.7,618.4 L774.7,616.3 L793.0,614.3 L813.2,612.3 L835.4,610.3 L858.8,608.4 L882.4,606.6 L905.4,605.0 L927.0,603.7 L947.7,602.7 L968.2,601.8 L988.1,601.2 L1007.0,600.8 L1024.5,600.5 L1040.0,600.3 L1053.2,600.3 L1064.3,600.5 L1073.9,600.8 L1082.7,601.2 L1091.2,601.8 L1100.0,602.5 L1109.0,603.3 L1117.8,604.3 L1126.2,605.3 L1134.4,606.5 L1142.4,607.7 L1150.0,609.0 L1157.2,610.3 L1164.1,611.7 L1170.6,613.1 L1177.0,614.6 L1183.4,616.2 L1190.0,618.0 L1196.8,619.9 L1203.6,622.0 L1210.5,624.2 L1217.3,626.4 L1223.8,628.7 L1230.0,631.0 L1235.8,633.3 L1241.4,635.5 L1246.8,637.8 L1251.9,640.1 L1257.0,642.5 L1262.0,645.0 L1266.8,647.5 L1271.2,649.9 L1275.5,652.4 L1279.9,655.0 L1284.7,657.8 L1290.0,661.0 L1296.0,664.4 L1302.4,667.9 L1309.2,671.6 L1316.2,675.7 L1323.2,680.1 L1330.0,685.0 L1336.7,690.5 L1343.4,696.7" stroke="#161616" stroke-width="3"/>
</g>
<!-- lens strip highlights -->
<path d="M330,752 C430,722 540,700 660,684" fill="none" stroke="#4a4a4a" stroke-width="2"/>
<path d="M450,716 C520,700 600,684 650,668 C700,660 740,655 780,650" fill="none" stroke="#8a8a8a" stroke-width="2"/>
<path d="M500,678 C560,670 620,660 680,650 C720,643 750,638 780,634" fill="none" stroke="#c4c4c4" stroke-width="2.2"/>
<!-- band between lens strip and plate -->
<path d="M620,684 C720,668 800,656 880,648 L945,645 945,660 870,657 676,684 Z" fill="#2e2e2e"/>
<!-- left lens crescent -->
<path d="M187,810 L172,826 152,848 132,874 118,898 109,924 L112,931 124,927 134,905 148,882 167,858 186,836 201,820 Z" fill="url(#lensL)"/>
<!-- left housing edge (black) -->
<path d="M201,820 L186,836 167,858 148,882 134,905 124,927 L112,931 128,944 140,938 148,914 162,892 180,868 198,846 213,830 Z" fill="#111"/>
<!-- left inner recess -->
<path d="M140,938 L148,914 162,892 180,868 198,846 213,830 214,990 184,975 156,958 Z" fill="#1e1e1e"/>
<path d="M140,925 L205,890 214,890 214,995 190,982 150,955 Z" fill="#303030"/>
<path d="M142,922 L205,888" stroke="#555" stroke-width="1.5"/>
<path d="M150,955 L214,995 214,1005 184,985 Z" fill="#151515"/>
<!-- left bracket -->
<path d="M210,810 L285,799 287,1015 268,1017 224,1000 217,993 Z" fill="#2b2b2b"/>
<path d="M210,810 L285,799 286,806 212,817 Z" fill="#444"/>
<path d="M200,890 L220,890 220,1000 204,990 Z" fill="#353535"/>
<path d="M220,890 L220,1000" stroke="#4a4a4a" stroke-width="1.5"/>
<path d="M225,935 L287,930" stroke="#1a1a1a" stroke-width="2"/>
<path d="M225,937 L287,932" stroke="#444" stroke-width="1"/>
<rect x="235" y="822" width="32" height="25" fill="#3a3a3a"/>
<rect x="235" y="822" width="32" height="25" fill="none" stroke="#555" stroke-width="1"/>
<circle cx="256" cy="835" r="4" fill="#0d0d0d"/>
<rect x="224" y="992" width="33" height="14" fill="#2c2c2c" stroke="#555" stroke-width="1"/>
<rect x="238" y="1012" width="30" height="25" fill="#2a2a2a" stroke="#4a4a4a" stroke-width="1"/>
<circle cx="257" cy="1027" r="4.5" fill="#0d0d0d"/>
<!-- top-left clip area above bracket -->
<path d="M230,770 L285,740 330,725 370,715 372,730 340,745 300,760 287,800 240,805 Z" fill="#222"/>
<path d="M282,728 L330,714 372,706 378,718 345,730 300,742 Z" fill="#3c3c3c"/>
<path d="M282,728 L330,714 372,706" fill="none" stroke="#7a7a7a" stroke-width="1.5"/>
<path d="M300,742 L345,730 378,718" fill="none" stroke="#1a1a1a" stroke-width="1.5"/>
<path d="M281,731 C286,724 296,724 300,730 C302,738 296,745 288,745 C282,743 279,737 281,731 Z" fill="#4a4a4a" stroke="#6a6a6a" stroke-width="1"/>
<path d="M240,790 L280,760 300,752 320,760 290,790 Z" fill="#2c2c2c"/>
<path d="M240,790 L280,760 300,752" fill="none" stroke="#5a5a5a" stroke-width="1.2"/>
<!-- recess right of bracket with socket -->
<path d="M287,812 L353,800 353,995 287,995 Z" fill="#151515"/>
<ellipse cx="327" cy="873" rx="25" ry="33" fill="#1e1e1e" stroke="#2e2e2e" stroke-width="3"/>
<ellipse cx="343" cy="878" rx="15" ry="21" fill="#0c0c0c"/>
<circle cx="313" cy="935" r="8" fill="#252525"/>
<!-- upper-left housing block -->
<path d="M287,800 L300,760 380,735 470,712 540,696 600,690 640,700 630,740 560,770 509.6,761 466.7,789 423.7,820.7 354.7,794.5 Z" fill="#262626"/>
<path d="M300,765 L380,742 470,720 540,704 600,698 598,706 540,712 470,728 380,750 305,772 Z" fill="#333"/>
<path d="M300,765 L380,742 470,720 540,704 600,698" fill="none" stroke="#6a6a6a" stroke-width="1.2"/>
<path d="M340,775 L410,752 461,738 470,734" fill="none" stroke="#5e5e5e" stroke-width="1.2"/>
<path d="M354.7,794.5 L364,774 410.7,761 461,740.4 509.6,761 466.7,789 423.7,820.7 Z" fill="url(#blockTop)"/>
<path d="M423.7,820.7 L466.7,789 509.6,761 509.6,867.3 423.7,867.3 Z" fill="#393939"/>
<path d="M313.6,779.6 L354.7,794.5 423.7,820.7 423.7,867.3 340,847 313.6,824.4 Z" fill="#2e2e2e"/>
<path d="M354.7,794.5 L423.7,820.7 466.7,789 509.6,761" fill="none" stroke="#626262" stroke-width="1.5"/>
<path d="M461,740.4 L509.6,761" fill="none" stroke="#5a5a5a" stroke-width="1.2"/>
<ellipse cx="483.5" cy="790.8" rx="15" ry="13" fill="none" stroke="#4e4e4e" stroke-width="1"/>
<!-- lower box -->
<path d="M353,905 L490,945 492,1035 366,994 Z" fill="#1e1e1e"/>
<path d="M353,905 L490,945 505,938 372,898 Z" fill="#2e2e2e"/>
<path d="M490,945 L492,1035" stroke="#333" stroke-width="1.5"/>
<!-- dark region below left bulb -->
<path d="M490,935 L700,950 800,950 830,1000 800,1040 700,1045 600,1040 520,1037 492,1035 Z" fill="#121212"/>
<!-- central plate -->
<path d="M676,684 L868,657 945,660 945,760 940,947 700,947 695,900 690,800 676,760 Z" fill="url(#plateG)"/>
<path d="M868,657 L945,660 945,800 868,790 Z" fill="url(#plateR)"/>
<!-- left side face of plate (dark) -->
<path d="M676,684 L713,693 713,752 676,760 Z" fill="#383838"/>
<!-- dark bowl left of plate -->
<path d="M676,760 L713,752 740,765 760,790 770,840 773,900 775,947 700,947 690,900 Z" fill="#202020"/>
<path d="M713,752 C740,765 760,790 770,840 L775,947" fill="none" stroke="#505050" stroke-width="1.5"/>
<!-- mound -->
<path d="M800,870 C795,800 805,765 842,760 C872,758 888,782 883,830 L878,870 Z" fill="#393939"/>
<!-- right bulb cylinder housing -->
<path d="M867,795 C870,772 890,768 938,768 L945,900 C905,905 878,900 868,885 Z" fill="url(#cylG)"/>
<!-- vent rectangle -->
<path d="M758.7,691.5 L863.2,697 L856.7,752 L754,747.5 Z" fill="#555" stroke="#2e2e2e" stroke-width="2"/>
<path d="M760.7,694.5 L860.5,699.5 854.5,749.5 756.5,745 Z" fill="none" stroke="#777" stroke-width="1"/>
<circle cx="791.8" cy="718.5" r="16" fill="#3d3d3d"/>
<circle cx="832" cy="718" r="17" fill="#3d3d3d"/>
<circle cx="729" cy="743" r="12" fill="#3a3a3a" stroke="#606060" stroke-width="1"/>
<path d="M724,733 L724,753 M730,732 L730,754 M736,734 L736,752" stroke="#222" stroke-width="2"/>
<!-- bottom middle region -->
<path d="M945,900 L1100,880 1061,1004 1040,1032 1000,1040 940,1030 Z" fill="#151515"/>
<!-- left bulb -->
<defs><linearGradient id="cylL" x1="0" y1="0" x2="1" y2="0"><stop offset="0" stop-color="#2a2a2a"/><stop offset="0.35" stop-color="#4a4a4a"/><stop offset="0.7" stop-color="#383838"/><stop offset="1" stop-color="#262626"/></linearGradient></defs>
<path d="M506,805 C505,782 516,766 540,760 L562,758 L562,905 L522,895 C510,872 506,835 506,805 Z" fill="url(#cylL)"/>
<ellipse cx="610" cy="840" rx="81" ry="103" fill="#161616"/>
<ellipse cx="610" cy="840" rx="79" ry="101" fill="none" stroke="#3a3a3a" stroke-width="1.5"/>
<ellipse cx="614" cy="842" rx="71" ry="93" fill="none" stroke="#333" stroke-width="1.5"/>
<ellipse cx="618" cy="843" rx="65" ry="88" fill="#1e1e1e"/>
<ellipse cx="632" cy="846" rx="57" ry="84" fill="url(#bulbG)"/>
<ellipse cx="643" cy="854" rx="40" ry="60" fill="none" stroke="#3c3c3c" stroke-width="1"/>
<circle cx="622" cy="850" r="9" fill="#2c2c2c" stroke="#3a3a3a" stroke-width="1"/>
<circle cx="657" cy="856" r="10" fill="#2c2c2c" stroke="#3a3a3a" stroke-width="1"/>
<g stroke="#555" stroke-width="3" stroke-linecap="round"><path d="M567,794 L593,811"/><path d="M546,868 L578,866"/><path d="M670,779 L676,789"/><path d="M573,915 L588,906"/></g>
<!-- right bulb -->
<ellipse cx="988" cy="835" rx="70" ry="92" fill="#161616"/>
<ellipse cx="988" cy="835" rx="66" ry="88" fill="none" stroke="#2e2e2e" stroke-width="2"/>
<ellipse cx="992" cy="835" rx="61" ry="82" fill="none" stroke="#0e0e0e" stroke-width="3"/>
<ellipse cx="1003" cy="838" rx="52" ry="72" fill="url(#bulbG)"/>
<g stroke="#4a4a4a" stroke-width="2.5" fill="none"><path d="M958,795 L983,804"/><path d="M947,868 L972,864"/><path d="M1005,748 L1012,762"/><path d="M985,905 L993,895"/></g>
<ellipse cx="1028" cy="831" rx="31" ry="56" fill="none" stroke="#3a3a3a" stroke-width="1.2"/>
<!-- right of adjuster -->
<path d="M1012,640 L1080,623 1083,700 1045,712 1022,715 1022,690 Z" fill="#262626"/>
<!-- adjuster -->
<path d="M942,670 L985,676 995,682 995,742 985,746 945,745 Z" fill="url(#adjCyl)"/>
<ellipse cx="1000" cy="712" rx="21" ry="32" fill="#111"/>
<ellipse cx="1001" cy="712" rx="17" ry="28" fill="#d4d4d4"/>
<path d="M1006,690 C1012,700 1014,715 1010,730" fill="none" stroke="#f4f4f4" stroke-width="3"/>
<!-- top tab -->
<path d="M903,634 L1007,630 1008,650 1000,656 915,665 903,660 Z" fill="#3c3c3c"/>
<path d="M903,634 L1007,630" stroke="#666" stroke-width="1.5"/>
<!-- top-right bracket -->
<path d="M1040,626 L1083,622 1229,630 1240,640 1250,690 1250,720 1190,764 1096,764 1083,734 1040,734 Z" fill="#262626"/>
<path d="M1083,626 L1229,632 1232,680 1083,680 Z" fill="#353535"/>
<path d="M1083,626 L1229,632" stroke="#4a4a4a" stroke-width="2"/>
<path d="M1040,628 L1083,626 1083,734 1040,734 Z" fill="#2e2e2e"/>
<path d="M1070,628 L1070,732 M1080,628 L1080,732" stroke="#454545" stroke-width="2"/>
<path d="M1080,648.7 C1140,656 1200,668 1249.7,692 L1248,719.8 C1200,718 1140,716 1080,712.9 Z" fill="#404040"/>
<path d="M1080,648.7 C1140,656 1200,668 1249.7,692" fill="none" stroke="#5a5a5a" stroke-width="1.5"/>
<path d="M1198,672 L1215,670 1250,690 1249,700 1222,688 Z" fill="#1a1a1a"/>
<path d="M1096,716 L1191,716 1191,764 1096,764 Z" fill="#303030"/>
<text x="1140" y="745" font-size="11" font-family="Liberation Sans" font-weight="bold" fill="#404040" text-anchor="middle">12V 5W</text>
<!-- lower right -->
<path d="M1100,870 L1200,880 1340,885 1337,900 1276,924 1239,949 1184,967 1123,986 1092,1001 1061,1004 1060,940 Z" fill="#141414"/>
<ellipse cx="1198" cy="922" rx="26" ry="44" fill="#1a1a1a" stroke="#2e2e2e" stroke-width="3"/>
<!-- right bowl interior -->
<defs>
<linearGradient id="bowlG2" x1="0" y1="0" x2="0" y2="1">
<stop offset="0" stop-color="#383838"/><stop offset="0.35" stop-color="#262626"/><stop offset="1" stop-color="#1a1a1a"/></linearGradient>
<linearGradient id="lipG" x1="0" y1="0" x2="0" y2="1">
<stop offset="0" stop-color="#2a2a2a"/><stop offset="0.5" stop-color="#626262"/><stop offset="1" stop-color="#3a3a3a"/></linearGradient>
<linearGradient id="rodG" x1="0" y1="0" x2="0" y2="1">
<stop offset="0" stop-color="#555"/><stop offset="0.3" stop-color="#333"/><stop offset="1" stop-color="#1a1a1a"/></linearGradient>
</defs>
<path d="M1250,650 L1288,668 1340,708 1380,748 1405,790 1418,820 1410,838 1385,855 1330,868 1250,866 1240,800 1245,720 Z" fill="url(#bowlG2)"/>
<path d="M1225,640 L1292,660 1320,682 1240,705 Z" fill="#333"/>
<path d="M1255,650 L1300,672 1335,700 1300,712 1255,712 Z" fill="#3a3a3a" opacity="0.7"/>
<path d="M1290,668 C1340,700 1385,745 1410,795 C1420,815 1418,832 1410,842 C1390,860 1370,868 1348,877" fill="none" stroke="#5e5e5e" stroke-width="3"/>
<path d="M1300,680 C1350,712 1385,750 1405,790" fill="none" stroke="#444" stroke-width="2"/>
<!-- socket -->
<ellipse cx="1218" cy="790" rx="30" ry="30" fill="#151515" stroke="#3a3a3a" stroke-width="2"/>
<path d="M1203,775 L1250,776 1250,806 1228,818 1203,812 Z" fill="#1a1a1a" stroke="#3a3a3a" stroke-width="1.5"/>
<path d="M1058,800 L1100,805 1150,822 1156,850 1120,866 1062,852 Z" fill="#272727"/>
<path d="M1100,808 L1150,824" stroke="#444" stroke-width="1.5"/>
<!-- shelf lip -->
<path d="M1252,795 L1300,800 1408,814 1410,826 1300,818 1252,812 Z" fill="url(#lipG)"/>
<path d="M1150,824 L1252,812 1300,818 1400,830 1395,850 1300,852 1150,850 Z" fill="#1c1c1c"/>
<path d="M1150,826 L1250,826 1375,845 1372,855 1250,846 1150,846 Z" fill="#3c3c3c"/>
<!-- rod -->
<path d="M1190,850 L1300,866 1355,876 1352,893 1300,890 1190,870 Z" fill="url(#rodG)"/>
<path d="M1312,868 L1352,874 1354,904 1310,898 Z" fill="#1c1c1c" stroke="#3a3a3a" stroke-width="1"/>
<!-- right rim band -->
<defs><linearGradient id="bandFade" gradientUnits="userSpaceOnUse" x1="940" y1="0" x2="1040" y2="0"><stop offset="0" stop-color="#000"/><stop offset="1" stop-color="#fff"/></linearGradient>
<mask id="bandMask" maskUnits="userSpaceOnUse" x="0" y="0" width="1500" height="1434"><rect x="0" y="0" width="1500" height="1434" fill="url(#bandFade)"/></mask></defs>
<g mask="url(#bandMask)"><g clip-path="url(#bodyClip)" fill="none" stroke-linejoin="round" stroke-linecap="round">
<path d="M927.0,603.7 L947.7,602.7 L968.2,601.8 L988.1,601.2 L1007.0,600.8 L1024.5,600.5 L1040.0,600.3 L1053.2,600.3 L1064.3,600.5 L1073.9,600.8 L1082.7,601.2 L1091.2,601.8 L1100.0,602.5 L1109.0,603.3 L1117.8,604.3 L1126.2,605.3 L1134.4,606.5 L1142.4,607.7 L1150.0,609.0 L1157.2,610.3 L1164.1,611.7 L1170.6,613.1 L1177.0,614.6 L1183.4,616.2 L1190.0,618.0 L1196.8,619.9 L1203.6,622.0 L1210.5,624.2 L1217.3,626.4 L1223.8,628.7 L1230.0,631.0 L1235.8,633.3 L1241.4,635.5 L1246.8,637.8 L1251.9,640.1 L1257.0,642.5 L1262.0,645.0 L1266.8,647.5 L1271.2,649.9 L1275.5,652.4 L1279.9,655.0 L1284.7,657.8 L1290.0,661.0 L1296.0,664.4 L1302.4,667.9 L1309.2,671.6 L1316.2,675.7 L1323.2,680.1 L1330.0,685.0 L1336.7,690.5 L1343.4,696.7 L1350.1,703.2 L1356.7,709.9 L1363.4,716.6 L1370.0,723.0 L1376.8,729.4 L1383.9,736.1 L1390.9,742.7 L1397.7,749.0 L1403.8,754.9 L1409.0,760.0 L1413.2,764.3 L1416.5,767.9 L1419.3,771.0 L1421.6,773.8 L1423.8,776.6 L1426.0,779.5 L1428.2,782.5 L1430.2,785.5 L1432.0,788.4 L1433.7,791.3 L1435.2,794.2 L1436.6,797.0 L1437.9,799.9 L1439.0,803.0 L1439.9,806.0 L1440.8,808.9 L1441.4,811.5 L1442.0,813.7 L1442.4,815.4 L1442.7,816.6 L1442.8,817.5 L1442.8,818.4 L1442.7,819.3 L1442.5,820.5 L1442.3,821.9 L1441.9,823.5 L1441.5,825.2 L1441.0,826.9 L1440.4,828.6 L1439.6,830.3 L1438.7,832.0 L1437.8,833.7 L1436.7,835.5 L1435.5,837.3 L1434.2,839.1 L1432.7,841.0 L1431.1,843.0 L1429.3,845.1 L1427.5,847.2 L1425.4,849.4 L1423.3,851.6 L1421.0,853.7 L1418.5,855.8 L1415.9,858.0 L1413.2,860.2 L1410.3,862.3 L1407.4,864.4 L1404.4,866.4 L1401.3,868.3 L1398.1,870.2 L1394.7,872.1 L1391.4,873.8 L1388.1,875.5 L1385.0,877.0 L1382.2,878.3 L1379.7,879.3 L1377.2,880.2 L1374.6,881.1 L1371.6,882.4 L1368.0,884.0 L1363.3,886.3 L1357.6,889.3 L1351.4,892.4 L1345.6,895.5 L1340.5,898.2 L1337.0,900.0" stroke="#888" stroke-width="34"/>
<path d="M927.0,603.7 L947.7,602.7 L968.2,601.8 L988.1,601.2 L1007.0,600.8 L1024.5,600.5 L1040.0,600.3 L1053.2,600.3 L1064.3,600.5 L1073.9,600.8 L1082.7,601.2 L1091.2,601.8 L1100.0,602.5 L1109.0,603.3 L1117.8,604.3 L1126.2,605.3 L1134.4,606.5 L1142.4,607.7 L1150.0,609.0 L1157.2,610.3 L1164.1,611.7 L1170.6,613.1 L1177.0,614.6 L1183.4,616.2 L1190.0,618.0 L1196.8,619.9 L1203.6,622.0 L1210.5,624.2 L1217.3,626.4 L1223.8,628.7 L1230.0,631.0 L1235.8,633.3 L1241.4,635.5 L1246.8,637.8 L1251.9,640.1 L1257.0,642.5 L1262.0,645.0 L1266.8,647.5 L1271.2,649.9 L1275.5,652.4 L1279.9,655.0 L1284.7,657.8 L1290.0,661.0 L1296.0,664.4 L1302.4,667.9 L1309.2,671.6 L1316.2,675.7 L1323.2,680.1 L1330.0,685.0 L1336.7,690.5 L1343.4,696.7 L1350.1,703.2 L1356.7,709.9 L1363.4,716.6 L1370.0,723.0 L1376.8,729.4 L1383.9,736.1 L1390.9,742.7 L1397.7,749.0 L1403.8,754.9 L1409.0,760.0 L1413.2,764.3 L1416.5,767.9 L1419.3,771.0 L1421.6,773.8 L1423.8,776.6 L1426.0,779.5 L1428.2,782.5 L1430.2,785.5 L1432.0,788.4 L1433.7,791.3 L1435.2,794.2 L1436.6,797.0 L1437.9,799.9 L1439.0,803.0 L1439.9,806.0 L1440.8,808.9 L1441.4,811.5 L1442.0,813.7 L1442.4,815.4 L1442.7,816.6 L1442.8,817.5 L1442.8,818.4 L1442.7,819.3 L1442.5,820.5 L1442.3,821.9 L1441.9,823.5 L1441.5,825.2 L1441.0,826.9 L1440.4,828.6 L1439.6,830.3 L1438.7,832.0 L1437.8,833.7 L1436.7,835.5 L1435.5,837.3 L1434.2,839.1 L1432.7,841.0 L1431.1,843.0 L1429.3,845.1 L1427.5,847.2 L1425.4,849.4 L1423.3,851.6 L1421.0,853.7 L1418.5,855.8 L1415.9,858.0 L1413.2,860.2 L1410.3,862.3 L1407.4,864.4 L1404.4,866.4 L1401.3,868.3 L1398.1,870.2 L1394.7,872.1 L1391.4,873.8 L1388.1,875.5 L1385.0,877.0 L1382.2,878.3 L1379.7,879.3 L1377.2,880.2 L1374.6,881.1 L1371.6,882.4 L1368.0,884.0 L1363.3,886.3 L1357.6,889.3 L1351.4,892.4 L1345.6,895.5 L1340.5,898.2 L1337.0,900.0" stroke="#282828" stroke-width="31"/>
<path d="M927.0,603.7 L947.7,602.7 L968.2,601.8 L988.1,601.2 L1007.0,600.8 L1024.5,600.5 L1040.0,600.3 L1053.2,600.3 L1064.3,600.5 L1073.9,600.8 L1082.7,601.2 L1091.2,601.8 L1100.0,602.5 L1109.0,603.3 L1117.8,604.3 L1126.2,605.3 L1134.4,606.5 L1142.4,607.7 L1150.0,609.0 L1157.2,610.3 L1164.1,611.7 L1170.6,613.1 L1177.0,614.6 L1183.4,616.2 L1190.0,618.0 L1196.8,619.9 L1203.6,622.0 L1210.5,624.2 L1217.3,626.4 L1223.8,628.7 L1230.0,631.0 L1235.8,633.3 L1241.4,635.5 L1246.8,637.8 L1251.9,640.1 L1257.0,642.5 L1262.0,645.0 L1266.8,647.5 L1271.2,649.9 L1275.5,652.4 L1279.9,655.0 L1284.7,657.8 L1290.0,661.0 L1296.0,664.4 L1302.4,667.9 L1309.2,671.6 L1316.2,675.7 L1323.2,680.1 L1330.0,685.0 L1336.7,690.5 L1343.4,696.7 L1350.1,703.2 L1356.7,709.9 L1363.4,716.6 L1370.0,723.0 L1376.8,729.4 L1383.9,736.1 L1390.9,742.7 L1397.7,749.0 L1403.8,754.9 L1409.0,760.0 L1413.2,764.3 L1416.5,767.9 L1419.3,771.0 L1421.6,773.8 L1423.8,776.6 L1426.0,779.5 L1428.2,782.5 L1430.2,785.5 L1432.0,788.4 L1433.7,791.3 L1435.2,794.2 L1436.6,797.0 L1437.9,799.9 L1439.0,803.0 L1439.9,806.0 L1440.8,808.9 L1441.4,811.5 L1442.0,813.7 L1442.4,815.4 L1442.7,816.6 L1442.8,817.5 L1442.8,818.4 L1442.7,819.3 L1442.5,820.5 L1442.3,821.9 L1441.9,823.5 L1441.5,825.2 L1441.0,826.9 L1440.4,828.6 L1439.6,830.3 L1438.7,832.0 L1437.8,833.7 L1436.7,835.5 L1435.5,837.3 L1434.2,839.1 L1432.7,841.0 L1431.1,843.0 L1429.3,845.1 L1427.5,847.2 L1425.4,849.4 L1423.3,851.6 L1421.0,853.7 L1418.5,855.8 L1415.9,858.0 L1413.2,860.2 L1410.3,862.3 L1407.4,864.4 L1404.4,866.4 L1401.3,868.3 L1398.1,870.2 L1394.7,872.1 L1391.4,873.8 L1388.1,875.5 L1385.0,877.0 L1382.2,878.3 L1379.7,879.3 L1377.2,880.2 L1374.6,881.1 L1371.6,882.4 L1368.0,884.0 L1363.3,886.3 L1357.6,889.3 L1351.4,892.4 L1345.6,895.5 L1340.5,898.2 L1337.0,900.0" stroke="#141414" stroke-width="20"/>
<path d="M927.0,603.7 L947.7,602.7 L968.2,601.8 L988.1,601.2 L1007.0,600.8 L1024.5,600.5 L1040.0,600.3 L1053.2,600.3 L1064.3,600.5 L1073.9,600.8 L1082.7,601.2 L1091.2,601.8 L1100.0,602.5 L1109.0,603.3 L1117.8,604.3 L1126.2,605.3 L1134.4,606.5 L1142.4,607.7 L1150.0,609.0 L1157.2,610.3 L1164.1,611.7 L1170.6,613.1 L1177.0,614.6 L1183.4,616.2 L1190.0,618.0 L1196.8,619.9 L1203.6,622.0 L1210.5,624.2 L1217.3,626.4 L1223.8,628.7 L1230.0,631.0 L1235.8,633.3 L1241.4,635.5 L1246.8,637.8 L1251.9,640.1 L1257.0,642.5 L1262.0,645.0 L1266.8,647.5 L1271.2,649.9 L1275.5,652.4 L1279.9,655.0 L1284.7,657.8 L1290.0,661.0 L1296.0,664.4 L1302.4,667.9 L1309.2,671.6 L1316.2,675.7 L1323.2,680.1 L1330.0,685.0 L1336.7,690.5 L1343.4,696.7 L1350.1,703.2 L1356.7,709.9 L1363.4,716.6 L1370.0,723.0 L1376.8,729.4 L1383.9,736.1 L1390.9,742.7 L1397.7,749.0 L1403.8,754.9 L1409.0,760.0 L1413.2,764.3 L1416.5,767.9 L1419.3,771.0 L1421.6,773.8 L1423.8,776.6 L1426.0,779.5 L1428.2,782.5 L1430.2,785.5 L1432.0,788.4 L1433.7,791.3 L1435.2,794.2 L1436.6,797.0 L1437.9,799.9 L1439.0,803.0 L1439.9,806.0 L1440.8,808.9 L1441.4,811.5 L1442.0,813.7 L1442.4,815.4 L1442.7,816.6 L1442.8,817.5 L1442.8,818.4 L1442.7,819.3 L1442.5,820.5 L1442.3,821.9 L1441.9,823.5 L1441.5,825.2 L1441.0,826.9 L1440.4,828.6 L1439.6,830.3 L1438.7,832.0 L1437.8,833.7 L1436.7,835.5 L1435.5,837.3 L1434.2,839.1 L1432.7,841.0 L1431.1,843.0 L1429.3,845.1 L1427.5,847.2 L1425.4,849.4 L1423.3,851.6 L1421.0,853.7 L1418.5,855.8 L1415.9,858.0 L1413.2,860.2 L1410.3,862.3 L1407.4,864.4 L1404.4,866.4 L1401.3,868.3 L1398.1,870.2 L1394.7,872.1 L1391.4,873.8 L1388.1,875.5 L1385.0,877.0 L1382.2,878.3 L1379.7,879.3 L1377.2,880.2 L1374.6,881.1 L1371.6,882.4 L1368.0,884.0 L1363.3,886.3 L1357.6,889.3 L1351.4,892.4 L1345.6,895.5 L1340.5,898.2 L1337.0,900.0" stroke="#747474" stroke-width="17"/>
<path d="M927.0,603.7 L947.7,602.7 L968.2,601.8 L988.1,601.2 L1007.0,600.8 L1024.5,600.5 L1040.0,600.3 L1053.2,600.3 L1064.3,600.5 L1073.9,600.8 L1082.7,601.2 L1091.2,601.8 L1100.0,602.5 L1109.0,603.3 L1117.8,604.3 L1126.2,605.3 L1134.4,606.5 L1142.4,607.7 L1150.0,609.0 L1157.2,610.3 L1164.1,611.7 L1170.6,613.1 L1177.0,614.6 L1183.4,616.2 L1190.0,618.0 L1196.8,619.9 L1203.6,622.0 L1210.5,624.2 L1217.3,626.4 L1223.8,628.7 L1230.0,631.0 L1235.8,633.3 L1241.4,635.5 L1246.8,637.8 L1251.9,640.1 L1257.0,642.5 L1262.0,645.0 L1266.8,647.5 L1271.2,649.9 L1275.5,652.4 L1279.9,655.0 L1284.7,657.8 L1290.0,661.0 L1296.0,664.4 L1302.4,667.9 L1309.2,671.6 L1316.2,675.7 L1323.2,680.1 L1330.0,685.0 L1336.7,690.5 L1343.4,696.7 L1350.1,703.2 L1356.7,709.9 L1363.4,716.6 L1370.0,723.0 L1376.8,729.4 L1383.9,736.1 L1390.9,742.7 L1397.7,749.0 L1403.8,754.9 L1409.0,760.0 L1413.2,764.3 L1416.5,767.9 L1419.3,771.0 L1421.6,773.8 L1423.8,776.6 L1426.0,779.5 L1428.2,782.5 L1430.2,785.5 L1432.0,788.4 L1433.7,791.3 L1435.2,794.2 L1436.6,797.0 L1437.9,799.9 L1439.0,803.0 L1439.9,806.0 L1440.8,808.9 L1441.4,811.5 L1442.0,813.7 L1442.4,815.4 L1442.7,816.6 L1442.8,817.5 L1442.8,818.4 L1442.7,819.3 L1442.5,820.5 L1442.3,821.9 L1441.9,823.5 L1441.5,825.2 L1441.0,826.9 L1440.4,828.6 L1439.6,830.3 L1438.7,832.0 L1437.8,833.7 L1436.7,835.5 L1435.5,837.3 L1434.2,839.1 L1432.7,841.0 L1431.1,843.0 L1429.3,845.1 L1427.5,847.2 L1425.4,849.4 L1423.3,851.6 L1421.0,853.7 L1418.5,855.8 L1415.9,858.0 L1413.2,860.2 L1410.3,862.3 L1407.4,864.4 L1404.4,866.4 L1401.3,868.3 L1398.1,870.2 L1394.7,872.1 L1391.4,873.8 L1388.1,875.5 L1385.0,877.0 L1382.2,878.3 L1379.7,879.3 L1377.2,880.2 L1374.6,881.1 L1371.6,882.4 L1368.0,884.0 L1363.3,886.3 L1357.6,889.3 L1351.4,892.4 L1345.6,895.5 L1340.5,898.2 L1337.0,900.0" stroke="#666" stroke-width="9"/>
<path d="M927.0,603.7 L947.7,602.7 L968.2,601.8 L988.1,601.2 L1007.0,600.8 L1024.5,600.5 L1040.0,600.3 L1053.2,600.3 L1064.3,600.5 L1073.9,600.8 L1082.7,601.2 L1091.2,601.8 L1100.0,602.5 L1109.0,603.3 L1117.8,604.3 L1126.2,605.3 L1134.4,606.5 L1142.4,607.7 L1150.0,609.0 L1157.2,610.3 L1164.1,611.7 L1170.6,613.1 L1177.0,614.6 L1183.4,616.2 L1190.0,618.0 L1196.8,619.9 L1203.6,622.0 L1210.5,624.2 L1217.3,626.4 L1223.8,628.7 L1230.0,631.0 L1235.8,633.3 L1241.4,635.5 L1246.8,637.8 L1251.9,640.1 L1257.0,642.5 L1262.0,645.0 L1266.8,647.5 L1271.2,649.9 L1275.5,652.4 L1279.9,655.0 L1284.7,657.8 L1290.0,661.0 L1296.0,664.4 L1302.4,667.9 L1309.2,671.6 L1316.2,675.7 L1323.2,680.1 L1330.0,685.0 L1336.7,690.5 L1343.4,696.7 L1350.1,703.2 L1356.7,709.9 L1363.4,716.6 L1370.0,723.0 L1376.8,729.4 L1383.9,736.1 L1390.9,742.7 L1397.7,749.0 L1403.8,754.9 L1409.0,760.0 L1413.2,764.3 L1416.5,767.9 L1419.3,771.0 L1421.6,773.8 L1423.8,776.6 L1426.0,779.5 L1428.2,782.5 L1430.2,785.5 L1432.0,788.4 L1433.7,791.3 L1435.2,794.2 L1436.6,797.0 L1437.9,799.9 L1439.0,803.0 L1439.9,806.0 L1440.8,808.9 L1441.4,811.5 L1442.0,813.7 L1442.4,815.4 L1442.7,816.6 L1442.8,817.5 L1442.8,818.4 L1442.7,819.3 L1442.5,820.5 L1442.3,821.9 L1441.9,823.5 L1441.5,825.2 L1441.0,826.9 L1440.4,828.6 L1439.6,830.3 L1438.7,832.0 L1437.8,833.7 L1436.7,835.5 L1435.5,837.3 L1434.2,839.1 L1432.7,841.0 L1431.1,843.0 L1429.3,845.1 L1427.5,847.2 L1425.4,849.4 L1423.3,851.6 L1421.0,853.7 L1418.5,855.8 L1415.9,858.0 L1413.2,860.2 L1410.3,862.3 L1407.4,864.4 L1404.4,866.4 L1401.3,868.3 L1398.1,870.2 L1394.7,872.1 L1391.4,873.8 L1388.1,875.5 L1385.0,877.0 L1382.2,878.3 L1379.7,879.3 L1377.2,880.2 L1374.6,881.1 L1371.6,882.4 L1368.0,884.0 L1363.3,886.3 L1357.6,889.3 L1351.4,892.4 L1345.6,895.5 L1340.5,898.2 L1337.0,900.0" stroke="#111" stroke-width="3"/>
</g></g>
<!-- post -->
<rect x="830" y="923" width="40" height="88" rx="13" fill="#2e2e2e"/>
<path d="M836,932 L836,1000" stroke="#4a4a4a" stroke-width="2"/>
<!-- nozzle -->
<path d="M1350,879 L1362,876 1368,883 1378,885 1390,887 1398,891 1401,896 1398,901 1388,903 1378,903 1368,905 1362,909 1350,907 Z" fill="#e8e8e8" stroke="#b8b8b8" stroke-width="1"/>
<!-- wires -->
<g fill="none" stroke-linecap="round" stroke-linejoin="round">
<path d="M345,885 C365,881 400,885 433,900 C460,915 480,928 500,940 C525,955 545,965 583,980" stroke="#f4bc1c" stroke-width="3.2"/>
<path d="M350,870 C370,875 400,895 433,913 C460,930 480,942 512,957 C540,968 560,972 588,985" stroke="#e8404c" stroke-width="3"/>
<path d="M593,1007 C600,1013 620,1022 650,1030 C670,1035 690,1038 700,1037.5 C720,1035 740,1031 760,1029 C800,1026 840,1025 880,1023 L904,1022" stroke="#f4bc1c" stroke-width="3.2"/>
<path d="M600,1003 C610,1010 620,1017 640,1022 C670,1030 690,1033 705,1032 C740,1027 760,1021 790,1019 C820,1017 850,1016 880,1014 L900,1012" stroke="#e8485a" stroke-width="3"/>
<path d="M595,1005 C620,1020 660,1032 700,1035 C760,1030 820,1020 900,1017" stroke="#1a1a1a" stroke-width="1.5"/>
<path d="M924,998 C926,980 926,960 927,949 C929,944 934,944 937,947 C942,953 947,960 952,967" stroke="#f4bc1c" stroke-width="3"/>
<path d="M920,1000 C928,992 931,986 931,970 C931,958 931,952 934,949 C940,948 948,958 956,967" stroke="#e8404c" stroke-width="2.8"/>
<path d="M1239,820 C1232,840 1225,850 1215,854 C1195,866 1185,872 1169,878 C1150,884 1135,886 1123,891 C1100,903 1090,912 1077,921 C1060,932 1050,942 1037,949 C1020,958 1005,962 985,966" stroke="#151515" stroke-width="2.5"/>
<path d="M1236,814 C1240,830 1232,840 1221,845 C1205,858 1198,866 1190,872 C1170,884 1155,890 1138,897 C1125,904 1120,908 1117,912 C1105,925 1098,932 1092,937 C1080,945 1072,948 1067,949 C1050,955 1035,960 1020,963" stroke="#e43c4c" stroke-width="3"/>
<path d="M1061,964 C1065,945 1070,932 1077,921 C1082,908 1087,896 1092,891 C1100,886 1110,886 1117,888 C1130,892 1140,896 1147,900 C1158,908 1165,915 1172,921 C1183,933 1192,943 1199,949 C1210,957 1218,962 1227,961 C1238,958 1238,948 1236,940 C1233,930 1230,925 1221,915" stroke="#2f74d8" stroke-width="2.6"/>
<path d="M1046,975 C1055,965 1070,955 1092,943 C1105,937 1115,934 1123,934 C1140,933 1155,935 1169,937 C1185,940 1200,945 1215,949 C1225,952 1232,954 1237,955" stroke="#2aa56e" stroke-width="2.6"/>
<path d="M1123,900 C1140,902 1155,905 1169,909 C1185,915 1200,926 1215,937 C1225,943 1232,947 1239,949" stroke="#151515" stroke-width="2.2"/>
</g>
<!-- connector -->
<path d="M946,990 L968,968 1027,962 1064,972 1072,985 1071,1020 1040,1035 1020,1035 975,1020 948,1010 Z" fill="#141414" stroke="#3a3a3a" stroke-width="1.5"/>
<path d="M1024,980 L1062,972 1068,980 1067,1022 1040,1032 1026,1028 Z" fill="#0a0a0a" stroke="#444" stroke-width="2"/>
<path d="M1004,985 L1020,990 M1010,975 L1025,978" stroke="#444" stroke-width="1.5"/>
<!-- clips -->
<path d="M583,988 L596,980 606,992 604,1005 592,1009 585,1000 Z" fill="#dcd0c4"/>
<circle cx="600" cy="994" r="4" fill="#aaa" stroke="#666" stroke-width="1"/>
<path d="M903,1000 L912,992 922,998 922,1020 906,1026 904,1012 Z" fill="#dcd0c4"/>
<circle cx="913" cy="1000" r="4" fill="#aaa" stroke="#666" stroke-width="1"/>

<defs>
<clipPath id="cc1"><circle cx="692" cy="427.4" r="128"/></clipPath>
<clipPath id="cc2"><circle cx="806.8" cy="1303" r="128"/></clipPath>
</defs>
<g clip-path="url(#cc1)"><rect x="560" y="295" width="270" height="270" fill="#151515"/>
<path d="M560,300 L598,300 598,560 560,560 Z" fill="#2e2e2e"/>
<path d="M575,300 L596,300 596,560 575,560 Z" fill="#3a3a3a"/>
<line x1="593" y1="330" x2="593" y2="520" stroke="#8a8a8a" stroke-width="2"/>
<!-- clip body -->
<path d="M641,316 L700,322 714,340 716,365 C716,375 712,380 706,383 L675,400 C664,410 660,430 660,455 C660,490 670,510 700,520 L740,522 C700,522 650,515 625,500 C608,485 603,455 604,420 C605,380 615,345 641,316 Z" fill="#0f0f0f"/>
<path d="M641,316 L700,322 714,340 716,365" fill="none" stroke="#4a4a4a" stroke-width="2"/>
<path d="M644,318 C625,340 612,370 608,410" fill="none" stroke="#3a3a3a" stroke-width="2"/>
<path d="M700,323 L740,330 748,340 748,365 735,375 716,368 716,340 Z" fill="#1a1a1a"/>
<path d="M722,330 L745,336 748,362" fill="none" stroke="#555" stroke-width="2"/>
<!-- dark ring around disc -->
<ellipse cx="722" cy="440" rx="62" ry="72" fill="#101010" stroke="#3a3a3a" stroke-width="1.5"/>
<!-- disc -->
<defs><linearGradient id="discG" x1="0.8" y1="0.1" x2="0.2" y2="0.9"><stop offset="0" stop-color="#f0f0f0"/><stop offset="0.6" stop-color="#e6e6e6"/><stop offset="1" stop-color="#d2d2d2"/></linearGradient></defs>
<ellipse cx="722.7" cy="439.3" rx="54.4" ry="66.4" fill="url(#discG)"/>
<!-- bolt -->
<path d="M708,432 C712,418 745,414 758,424 C765,440 763,462 753,472 C740,478 718,477 710,466 C705,456 705,442 708,432 Z" fill="#e4e4e4" stroke="#a8a8a8" stroke-width="1.2"/>
<path d="M708,432 C706,445 706,458 712,468 C718,474 726,476 732,476 C722,470 718,455 720,440 C722,428 728,420 736,418 C722,418 712,423 708,432 Z" fill="#cbcbcb"/>
<path d="M724,420 C735,416 750,418 756,424" fill="none" stroke="#9a9a9a" stroke-width="1.5"/>
<ellipse cx="743" cy="450" rx="15" ry="18" fill="#ececec" stroke="#a8a8a8" stroke-width="1.5"/>
<ellipse cx="745" cy="451" rx="10" ry="12" fill="none" stroke="#b4b4b4" stroke-width="1.2"/>
<!-- right region -->
<path d="M780,330 L822,360 822,480 785,470 778,400 Z" fill="#1c1c1c"/>
<!-- bottom region stripes -->
<path d="M600,500 L640,505 700,520 640,560 600,560 Z" fill="#1a1a1a"/>
<path d="M590,500 L650,505 630,520 585,520 Z" fill="#3a3a3a"/>
<g stroke="#4a4a4a" stroke-width="2.5" fill="none">
<path d="M630,545 L665,512"/><path d="M645,552 L682,516"/><path d="M662,556 L700,520"/>
<path d="M690,560 C720,535 760,520 800,510"/>
</g>
<path d="M780,490 C800,480 815,485 818,500 L800,540 770,540 Z" fill="#1e1e1e" stroke="#3c3c3c" stroke-width="1.5"/>
</g>
<g clip-path="url(#cc2)"><defs>
<pattern id="meshP" width="3.4" height="3.4" patternUnits="userSpaceOnUse" patternTransform="rotate(-4)">
<rect width="3.4" height="3.4" fill="#262626"/>
<path d="M0,0.5 H3.4 M0.5,0 V3.4" stroke="#4e4e4e" stroke-width="0.9"/>
</pattern>
<radialGradient id="meshL" cx="0.4" cy="0.52" r="0.6"><stop offset="0" stop-color="#fff" stop-opacity="0.12"/><stop offset="0.5" stop-color="#fff" stop-opacity="0.03"/><stop offset="1" stop-color="#000" stop-opacity="0.25"/></radialGradient>
<radialGradient id="meshR" cx="0.5" cy="0.5" r="0.6"><stop offset="0" stop-color="#000" stop-opacity="0.2"/><stop offset="1" stop-color="#000" stop-opacity="0.3"/></radialGradient>
<linearGradient id="c2bg" x1="0" y1="0" x2="0" y2="1"><stop offset="0" stop-color="#5e5e5e"/><stop offset="1" stop-color="#575757"/></linearGradient>
</defs>
<rect x="675" y="1170" width="265" height="265" fill="url(#c2bg)"/>
<path d="M675,1215 L708,1210.6 861,1190.6 940,1189 940,1197 861,1198.2 708,1218.3 675,1223 Z" fill="#3a3a3a"/>
<path d="M675,1211 L708,1206.6 861,1186.6 940,1185 940,1189 861,1190.6 708,1210.6 675,1215 Z" fill="#4c4c4c"/>
<path d="M675,1227 L708,1222.5 861,1202 940,1201" fill="none" stroke="#6c6c6c" stroke-width="2.5"/>
<path d="M690,1382 L918,1348 940,1346 940,1354 918,1357 690,1391 Z" fill="#383838"/>
<path d="M690,1378 L918,1344 940,1342" fill="none" stroke="#6a6a6a" stroke-width="2"/>
<path d="M690,1392 L918,1358 940,1356" fill="none" stroke="#4a4a4a" stroke-width="1.5"/>
<ellipse cx="744" cy="1311" rx="62" ry="50" transform="rotate(-6 744 1311)" fill="url(#meshP)"/>
<ellipse cx="744" cy="1311" rx="62" ry="50" transform="rotate(-6 744 1311)" fill="url(#meshL)" stroke="#8e8e8e" stroke-width="2" stroke-dasharray="2 1"/>
<ellipse cx="874.5" cy="1281.3" rx="57" ry="48.5" transform="rotate(-6 874.5 1281.3)" fill="url(#meshP)"/>
<ellipse cx="874.5" cy="1281.3" rx="57" ry="48.5" transform="rotate(-6 874.5 1281.3)" fill="url(#meshR)" stroke="#858585" stroke-width="2" stroke-dasharray="2 1"/>
</g>
<circle cx="692" cy="427.4" r="127.5" fill="none" stroke="#0b2a6e" stroke-width="3"/>
<circle cx="806.8" cy="1303" r="127.5" fill="none" stroke="#0b2a6e" stroke-width="3"/>
<polyline points="821,437.2 997,437.2 997.4,600" fill="none" stroke="#062a74" stroke-width="3.8"/>
<line x1="997.4" y1="600" x2="998.2" y2="722" stroke="#0c3d8c" stroke-width="4"/>
<circle cx="998" cy="722" r="12" fill="#4a7cc4" opacity="0.8"/>
<circle cx="998" cy="722" r="8" fill="#1d55aa"/>
<line x1="809" y1="734" x2="809" y2="1050" stroke="#0d3b8e" stroke-width="6"/>
<line x1="809" y1="1050" x2="809" y2="1176" stroke="#0b3084" stroke-width="6"/>
<circle cx="809" cy="734" r="12" fill="#3a72c4" opacity="0.8"/>
<circle cx="809" cy="734" r="9" fill="#1a56b4"/>
<g font-family="Liberation Sans" fill="#333">
<text x="837" y="378" font-weight="bold" font-size="38.8" textLength="461" lengthAdjust="spacingAndGlyphs">High/Low Beam Adjuster</text>
<text x="837" y="413.9" font-size="30.7" stroke="#333" stroke-width="0.5" textLength="340" lengthAdjust="spacingAndGlyphs">Beam Angle Adjustable</text>
<text x="388" y="1313.8" font-weight="bold" font-size="38.5" textLength="262" lengthAdjust="spacingAndGlyphs">One-way Vent</text>
<text x="388" y="1350.2" font-size="30.7" stroke="#333" stroke-width="0.5" textLength="282" lengthAdjust="spacingAndGlyphs">Get Rid of Moisture</text>
</g>
</svg>
</body></html>
